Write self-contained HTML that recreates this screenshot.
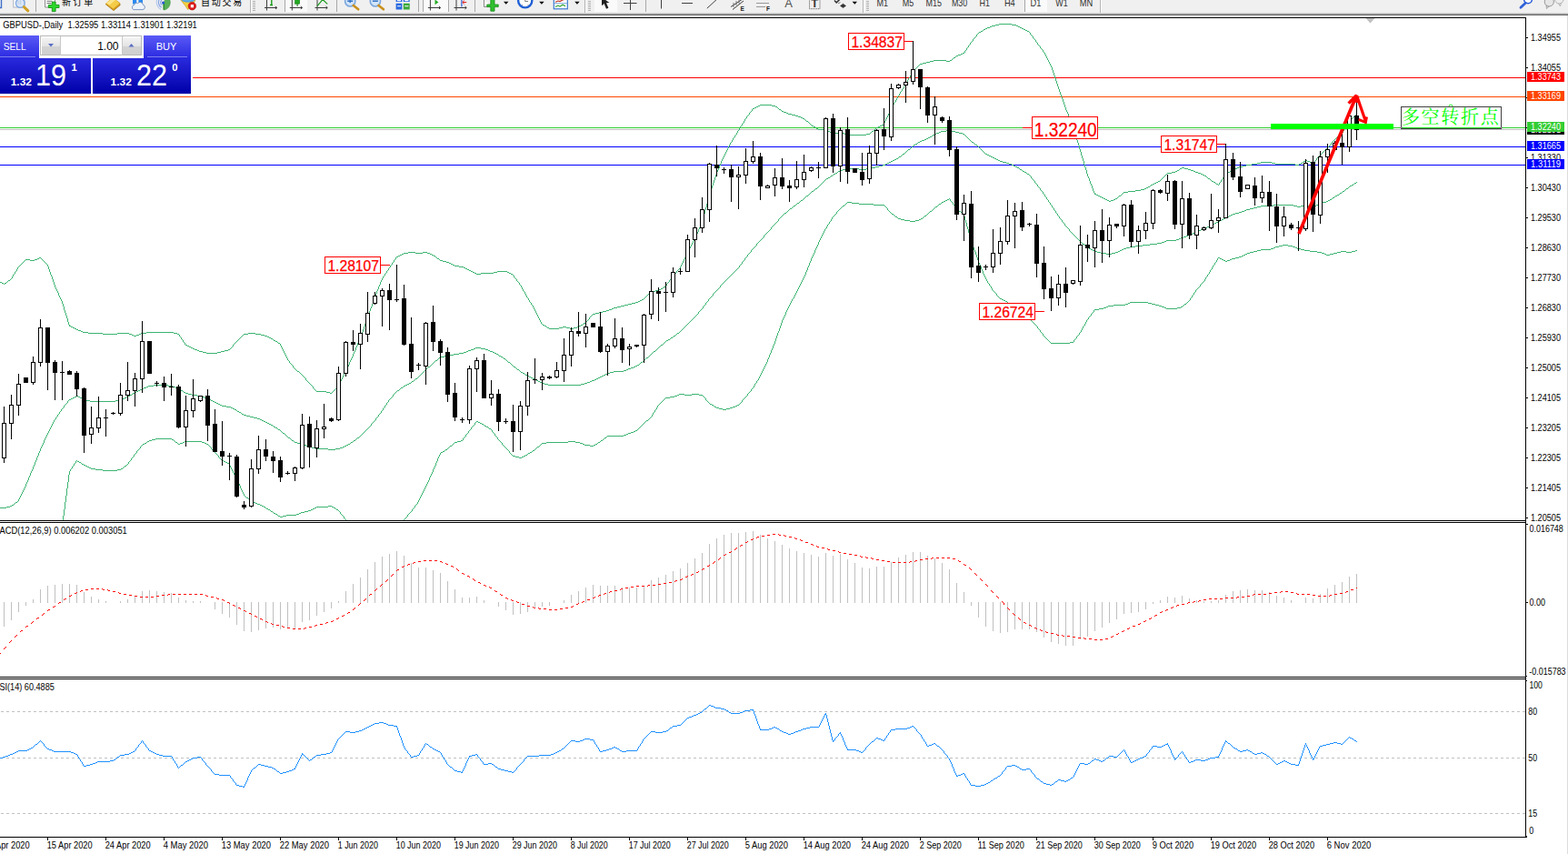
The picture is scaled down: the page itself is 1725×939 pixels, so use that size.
<!DOCTYPE html><html><head><meta charset="utf-8"><title>GBPUSD Daily</title><style>html,body{margin:0;padding:0;background:#fff;overflow:hidden;font-family:"Liberation Sans",sans-serif}svg text{font-family:"Liberation Sans",sans-serif}body{width:1725px;height:939px}</style></head><body><svg width="1725" height="939" viewBox="0 0 1725 939" font-family="&quot;Liberation Sans&quot;, sans-serif" style="display:block">
<defs>
<linearGradient id="gb1" x1="0" y1="0" x2="0" y2="1"><stop offset="0" stop-color="#5a5af6"/><stop offset="1" stop-color="#2c2ce2"/></linearGradient>
<linearGradient id="gb2" x1="0" y1="0" x2="0" y2="1"><stop offset="0" stop-color="#2a2adf"/><stop offset="1" stop-color="#0000a8"/></linearGradient>
<linearGradient id="gbtn" x1="0" y1="0" x2="0" y2="1"><stop offset="0" stop-color="#f4f4f4"/><stop offset="0.5" stop-color="#e4e4e4"/><stop offset="0.5" stop-color="#d4d4d4"/><stop offset="1" stop-color="#cfcfcf"/></linearGradient>
<clipPath id="cm"><rect x="0" y="20" width="1678" height="552"/></clipPath>
<clipPath id="cmacd"><rect x="0" y="575" width="1678" height="169"/></clipPath>
<clipPath id="crsi"><rect x="0" y="747" width="1678" height="173"/></clipPath>
</defs>
<rect width="1725" height="939" fill="#fff"/>
<g id="toolbar">
<rect x="0" y="0" width="1725" height="14" fill="#f0f0f0"/>
<rect x="0" y="14" width="1725" height="1" fill="#d6d6d6"/>
<rect x="0" y="15" width="1725" height="1" fill="#a0a0a0"/>
<rect x="0" y="16" width="1725" height="1" fill="#696969"/>
<rect x="1724" y="17" width="1" height="922" fill="#dcdcdc"/>
<g id="tb-icons"><clipPath id="ctb"><rect x="0" y="0" width="1725" height="14"/></clipPath><g clip-path="url(#ctb)">
<rect x="314" y="0" width="24" height="13" fill="#fafafa"/>
<rect x="466" y="0" width="27" height="13" fill="#fafafa"/>
<rect x="654" y="0" width="25" height="13" fill="#fafafa"/>
<rect x="1128" y="0" width="24" height="13" fill="#fafafa"/>
<rect x="39" y="0" width="1" height="13" fill="#a8a8a8"/>
<rect x="313" y="0" width="1" height="13" fill="#a8a8a8"/>
<rect x="370" y="0" width="1" height="13" fill="#a8a8a8"/>
<rect x="460" y="0" width="1" height="13" fill="#a8a8a8"/>
<rect x="465" y="0" width="1" height="13" fill="#a8a8a8"/>
<rect x="493" y="0" width="1" height="13" fill="#a8a8a8"/>
<rect x="522" y="0" width="1" height="13" fill="#a8a8a8"/>
<rect x="710" y="0" width="1" height="13" fill="#a8a8a8"/>
<rect x="1127" y="0" width="1" height="13" fill="#a8a8a8"/>
<rect x="275" y="0" width="1" height="14" fill="#b4b4b4"/><rect x="276" y="0" width="1" height="14" fill="#fdfdfd"/>
<rect x="643" y="0" width="1" height="14" fill="#b4b4b4"/><rect x="644" y="0" width="1" height="14" fill="#fdfdfd"/>
<rect x="949" y="0" width="1" height="14" fill="#b4b4b4"/><rect x="950" y="0" width="1" height="14" fill="#fdfdfd"/>
<rect x="1210" y="0" width="1" height="14" fill="#b4b4b4"/><rect x="1211" y="0" width="1" height="14" fill="#fdfdfd"/>
<g fill="#b0b0b0"><rect x="278" y="1" width="3" height="1"/><rect x="278" y="3" width="3" height="1"/><rect x="278" y="5" width="3" height="1"/><rect x="278" y="7" width="3" height="1"/><rect x="278" y="9" width="3" height="1"/><rect x="278" y="11" width="3" height="1"/></g>
<g fill="#b0b0b0"><rect x="647" y="1" width="3" height="1"/><rect x="647" y="3" width="3" height="1"/><rect x="647" y="5" width="3" height="1"/><rect x="647" y="7" width="3" height="1"/><rect x="647" y="9" width="3" height="1"/><rect x="647" y="11" width="3" height="1"/></g>
<g fill="#b0b0b0"><rect x="953" y="1" width="3" height="1"/><rect x="953" y="3" width="3" height="1"/><rect x="953" y="5" width="3" height="1"/><rect x="953" y="7" width="3" height="1"/><rect x="953" y="9" width="3" height="1"/><rect x="953" y="11" width="3" height="1"/></g>
<path d="M1.5 0V8.5H0" fill="none" stroke="#3f6fc8" stroke-width="1.4"/>
<rect x="14.8" y="-2" width="12" height="10" fill="#fff" stroke="#a4acb8" stroke-width="0.9"/>
<path d="M20 0.5v4M22.5 0v5" stroke="#9aa2ae" stroke-width="1.5"/>
<circle cx="22.3" cy="3.5" r="4.9" fill="#cfe0f6" fill-opacity="0.8" stroke="#7fa8e0" stroke-width="1.3"/>
<path d="M26.4 7.6L30.8 11.8" stroke="#d0a024" stroke-width="3" stroke-linecap="round"/>
<path d="M49.6 -1V8H60.4V-1" fill="#fff" stroke="#8a8a8a"/><path d="M51.5 1.3h6M51.5 3.5h5" stroke="#707070"/>
<path d="M57.3 2.1h3.8v3.3h3.9v3.1h-3.9v4.1h-3.8v-4.1h-4v-3.1h4z" fill="#2ad82a" stroke="#179417" stroke-width="0.9"/>
<text x="68.1" y="6" font-size="10" fill="#000" textLength="34.2" lengthAdjust="spacing" style="font-family:'Liberation Sans','Noto Sans CJK SC',sans-serif">新订单</text>
<path d="M116.2 4.6L125 11.6L132.2 5.6L131.6 3.2L124 -2z" fill="#d49a1c" stroke="#a87410" stroke-width="0.8"/>
<path d="M116.4 3.6L124.6 9.6L131.8 3.4L124 -3z" fill="#f4cc48"/>
<path d="M117.5 3.4L124 -2L127 0L120.5 5.6z" fill="#fbe48a"/>
<rect x="146" y="-2" width="4.2" height="6.5" fill="#2a8af0"/><rect x="152.4" y="-2" width="4.6" height="6" fill="#2a8af0"/>
<path d="M147 10.6h10a2.7 2.7 0 0 0 .4-5.3a3.3 3.3 0 0 0-5.8-1.7a2.7 2.7 0 0 0-4 2a2.6 2.6 0 0 0-.6 5z" fill="#eef3fa" stroke="#6f8cbc" stroke-width="0.9"/>
<path d="M179.8 3.2L183.5 -4A8.2 8.2 0 0 1 180.3 11z" fill="#58b058" stroke="#3a8a3a" stroke-width="0.5"/>
<path d="M180.2 3.2V10.8" stroke="#2a8a2a" stroke-width="1.3"/>
<g fill="none" stroke="#7f9fe4" stroke-width="1.1"><path d="M176.2 -1.8a6.3 6.3 0 0 0 1.6 10"/><path d="M178 0.2a3.4 3.4 0 0 0 .2 5.6"/><path d="M174 -3a9 9 0 0 0 3.3 13.4" stroke="#b6c8ee"/></g>
<circle cx="179.6" cy="3.1" r="1.6" fill="#2a5ad0"/>
<path d="M199.3 0.5L204 6.5L206.5 10.4L209 9L214.6 1V-2H199.3z" fill="#f4d040" stroke="#c8a020" stroke-width="0.7"/>
<ellipse cx="207" cy="0" rx="7" ry="2.2" fill="#5ab0e8" stroke="#3a88c8" stroke-width="0.6"/>
<circle cx="211.4" cy="6.7" r="4.2" fill="#e01c1c" stroke="#b01010" stroke-width="0.7"/><rect x="209.8" y="5.1" width="3.2" height="3.2" fill="#fff"/>
<text x="221" y="6" font-size="10" fill="#000" textLength="45.25" lengthAdjust="spacing" style="font-family:'Liberation Sans','Noto Sans CJK SC',sans-serif">自动交易</text>
<path d="M293.5 0V11.5M291 8.5H304.5M303 7l1.8 1.5l-1.8 1.5" fill="none" stroke="#3c3c3c" stroke-width="1"/>
<path d="M298.8 0V6M297 5.5h3" stroke="#1a9a1a" stroke-width="1.4" fill="none"/>
<path d="M321.3 0V11.5M318.8 8.5H332.3M330.8 7l1.8 1.5l-1.8 1.5" fill="none" stroke="#3c3c3c" stroke-width="1"/>
<rect x="324.6" y="-1" width="5" height="5.2" fill="#22aa22" stroke="#117711" stroke-width="0.6"/><path d="M327.1 4V7" stroke="#117711"/>
<path d="M349.0 0V11.5M346.5 8.5H360.0M358.5 7l1.8 1.5l-1.8 1.5" fill="none" stroke="#3c3c3c" stroke-width="1"/>
<path d="M349 6.7L355 -0.5L360.2 4.4" fill="none" stroke="#1a9a1a" stroke-width="1.2"/>
<circle cx="385.2" cy="1.4" r="5.6" fill="#d2e4f8" stroke="#7aa6dc" stroke-width="1.6"/>
<path d="M388.8 6L394.2 10.3" stroke="#c8901a" stroke-width="2.6" stroke-linecap="round"/>
<path d="M382.2 1.2h6" stroke="#3a78c8" stroke-width="1.6"/>
<circle cx="412.9" cy="1.4" r="5.6" fill="#d2e4f8" stroke="#7aa6dc" stroke-width="1.6"/>
<path d="M416.5 6L421.9 10.3" stroke="#c8901a" stroke-width="2.6" stroke-linecap="round"/>
<path d="M409.9 1.2h6" stroke="#3a78c8" stroke-width="1.6"/>
<path d="M385.2 -2v5" stroke="#3a78c8" stroke-width="1.6"/>
<rect x="435.6" y="-2" width="6.8" height="4" fill="#2a6ae0"/><rect x="443.8" y="-2" width="6.9" height="4" fill="#2a6ae0"/>
<rect x="435.6" y="3.7" width="6.8" height="6.8" fill="#2a6ae0"/><rect x="443.8" y="3.7" width="6.9" height="6.8" fill="#3aa83a"/>
<path d="M437 6.8h4M445.2 6.8h4.2M437 0.6h4M445.2 0.6h4.2" stroke="#fff" stroke-width="1.1"/>
<path d="M473.4 0V11.5M470.9 8.5H484.4M482.9 7l1.8 1.5l-1.8 1.5" fill="none" stroke="#3c3c3c" stroke-width="1"/>
<path d="M478.5 -0.5V5.2L482.4 2.4z" fill="#22aa22"/>
<path d="M502.0 0V11.5M499.5 8.5H513.0M511.5 7l1.8 1.5l-1.8 1.5" fill="none" stroke="#3c3c3c" stroke-width="1"/>
<path d="M507.9 0V7.5" stroke="#2a5ad0" stroke-width="1.2"/><path d="M513.2 2.5h-4M510.8 0.6L508.8 2.5L510.8 4.4" stroke="#e02020" stroke-width="1" fill="none"/>
<path d="M532.5 -1V7.5H540" fill="#fff" stroke="#8a8a8a"/>
<path d="M539.8 -1h4.2v6h4.2v2.6h-4.2v4.6h-4.2v-4.6h-4v-2.6h4z" fill="#2fc02f" stroke="#178a17" stroke-width="0.8"/>
<path d="M554 1.7h5.4l-2.7 3z" fill="#000"/>
<path d="M593.2 1.7h5.4l-2.7 3z" fill="#000"/>
<path d="M632.2 1.7h5.4l-2.7 3z" fill="#000"/>
<path d="M937.6 1.7h5.4l-2.7 3z" fill="#000"/>
<circle cx="577.7" cy="0.8" r="7.6" fill="#fff" stroke="#1f5fd4" stroke-width="2.4"/><path d="M577.7 -2V1.5H581" stroke="#808080" fill="none"/><path d="M574 5.5h1M580.5 5.5h1M577.5 7h1" stroke="#a0a0a0"/>
<rect x="609.3" y="-2" width="15" height="11.8" fill="#fff" stroke="#3a78d0" stroke-width="1.2"/><path d="M610 3.7h14" stroke="#7aa6dc"/>
<path d="M611 2.2l3-1.2l2 .6l3-1.6l3-.8" fill="none" stroke="#c03020" stroke-width="1.1"/><path d="M611 7.4l3-1.4l2 1.2l3-2l3 1.6" fill="none" stroke="#28a028" stroke-width="1.1"/>
<path d="M662 -3V6.2L664.6 4L667 9.8L669.4 8.8L667 3.2L670.4 3z" fill="#202020"/>
<path d="M693.5 0V11M686 3.5h14.5" stroke="#404040" fill="none"/>
<path d="M727.5 0V9.5M750 3.5h12" stroke="#404040" fill="none"/><path d="M777.8 9.2L788 -0.2" stroke="#404040" fill="none"/>
<path d="M804 7.5L817 -1M806 10.5L818 1" stroke="#404040" fill="none"/><path d="M807 3v5M810 1v5M813 -1v5" stroke="#606060" stroke-width="0.8"/>
<text x="814.6" y="11.8" font-size="6.5" fill="#202020" font-weight="bold" >E</text>
<path d="M832.5 3.5h14M832.5 7.5h10" stroke="#404040" stroke-dasharray="1 1" fill="none"/>
<text x="843" y="11.6" font-size="6.5" fill="#202020" font-weight="bold" >F</text>
<text x="863.2" y="7.6" font-size="13" fill="#505050" >A</text>
<rect x="890.5" y="-2" width="11.5" height="11.7" fill="none" stroke="#505050" stroke-dasharray="1 1"/>
<text x="892.3" y="8" font-size="13" fill="#3a3a3a" font-weight="bold" >T</text>
<path d="M918 0.5l2.2 2.4l4 -4" stroke="#303030" stroke-width="1.5" fill="none"/><path d="M922 3.8l2.5 -1.2M927.5 4.2l3 2.2l-3 2.2l-3-2.2z" fill="#303030" stroke="#303030" stroke-width="0.6"/>
<text x="964.5" y="6.7" font-size="11" fill="#303030" textLength="12.6" lengthAdjust="spacingAndGlyphs" >M1</text>
<text x="992.7" y="6.7" font-size="11" fill="#303030" textLength="12.5" lengthAdjust="spacingAndGlyphs" >M5</text>
<text x="1018.6" y="6.7" font-size="11" fill="#303030" textLength="17.4" lengthAdjust="spacingAndGlyphs" >M15</text>
<text x="1046.9" y="6.7" font-size="11" fill="#303030" textLength="17.2" lengthAdjust="spacingAndGlyphs" >M30</text>
<text x="1077.5" y="6.7" font-size="11" fill="#303030" textLength="11.4" lengthAdjust="spacingAndGlyphs" >H1</text>
<text x="1104.9" y="6.7" font-size="11" fill="#303030" textLength="11.8" lengthAdjust="spacingAndGlyphs" >H4</text>
<text x="1133.5" y="6.7" font-size="11" fill="#303030" textLength="11.8" lengthAdjust="spacingAndGlyphs" >D1</text>
<text x="1161.3" y="6.7" font-size="11" fill="#303030" textLength="13.4" lengthAdjust="spacingAndGlyphs" >W1</text>
<text x="1187.7" y="6.7" font-size="11" fill="#303030" textLength="14.4" lengthAdjust="spacingAndGlyphs" >MN</text>
<circle cx="1681" cy="-0.5" r="4.3" fill="#fff" stroke="#2a5ad8" stroke-width="1.5"/><path d="M1673 8.2L1678.3 3.3" stroke="#2f62d8" stroke-width="2.8" stroke-linecap="round"/>
<path d="M1714.2 3.4L1716.4 6.9L1717.6 3.6z" fill="#e8e8e8" stroke="#a0a0a0" stroke-width="0.7"/><ellipse cx="1715.3" cy="-0.3" rx="4.6" ry="4.3" fill="#ededed" stroke="#a4a4a4" stroke-width="0.8"/>
<path d="M1701 6L1701.5 9.6L1704.4 6.8z" fill="#dcdcdc" stroke="#8c8c8c" stroke-width="0.7"/><ellipse cx="1704.3" cy="2" rx="5.1" ry="5" fill="#e6e6e6" stroke="#909090" stroke-width="0.9"/>
</g></g>
</g>
<g shape-rendering="crispEdges" fill="#000">
<rect x="0" y="19" width="1679" height="1"/>
<rect x="1678" y="19" width="1" height="902"/>
<rect x="0" y="572" width="1679" height="1"/>
<rect x="0" y="574" width="1679" height="1"/>
<rect x="0" y="744" width="1679" height="1"/>
<rect x="0" y="746" width="1679" height="1"/>
<rect x="0" y="920" width="1680" height="1"/>
</g>
<path d="M1502.5 20h10l-5 5.5z" fill="#c0c0c0"/>
<g clip-path="url(#cm)">
<g shape-rendering="crispEdges">
<rect x="0" y="85" width="1678" height="1" fill="#ff0000"/>
<rect x="0" y="106" width="1678" height="1" fill="#ff4500"/>
<rect x="0" y="140" width="1678" height="1" fill="#32cd32"/>
<rect x="0" y="142" width="1678" height="1" fill="#c0c0c0"/>
<rect x="0" y="161" width="1678" height="1" fill="#0000ff"/>
<rect x="0" y="181" width="1678" height="1" fill="#0000ff"/>
</g>
<path fill="#3cb371" shape-rendering="crispEdges" d="M1099 26h14v1h-14zM1095 27h4v1h-4zM1113 27h5v1h-5zM1091 28h4v1h-4zM1118 28h2v1h-2zM1089 29h2v1h-2zM1120 29h2v1h-2zM1086 30h3v1h-3zM1122 30h2v1h-2zM1084 31h2v1h-2zM1124 31h2v1h-2zM1082 32h2v1h-2zM1126 32h2v1h-2zM1081 33h1v1h-1zM1128 33h2v1h-2zM1079 34h2v1h-2zM1130 34h2v1h-2zM1077 35h2v1h-2zM1132 35h1v1h-1zM1076 36h1v1h-1zM1133 36h1v2h-1zM1075 37h1v1h-1zM1074 38h1v2h-1zM1134 38h1v1h-1zM1135 39h1v1h-1zM1073 40h1v1h-1zM1136 40h1v2h-1zM1072 41h1v1h-1zM1071 42h1v1h-1zM1137 42h1v1h-1zM1070 43h1v2h-1zM1138 43h1v1h-1zM1139 44h1v2h-1zM1069 45h1v1h-1zM1068 46h1v1h-1zM1140 46h1v1h-1zM1067 47h1v2h-1zM1141 47h1v2h-1zM1066 49h1v1h-1zM1142 49h1v1h-1zM1065 50h1v2h-1zM1143 50h1v1h-1zM1144 51h1v2h-1zM1064 52h1v1h-1zM1063 53h1v2h-1zM1145 53h1v1h-1zM1146 54h1v1h-1zM1062 55h1v1h-1zM1147 55h1v2h-1zM1061 56h1v2h-1zM1148 57h1v1h-1zM1059 58h2v1h-2zM1149 58h1v2h-1zM1057 59h2v1h-2zM1054 60h3v1h-3zM1150 60h1v2h-1zM1052 61h2v1h-2zM1051 62h1v1h-1zM1151 62h1v2h-1zM1049 63h2v1h-2zM1048 64h1v1h-1zM1152 64h1v2h-1zM1047 65h1v1h-1zM1027 66h14v1h-14zM1045 66h2v1h-2zM1153 66h1v2h-1zM1023 67h4v1h-4zM1041 67h4v1h-4zM1019 68h4v1h-4zM1154 68h1v2h-1zM1015 69h4v1h-4zM1012 70h3v1h-3zM1155 70h1v2h-1zM1011 71h1v1h-1zM1010 72h1v1h-1zM1156 72h1v2h-1zM1009 73h1v1h-1zM1008 74h1v1h-1zM1157 74h1v3h-1zM1007 75h1v1h-1zM1006 76h1v1h-1zM1005 77h1v1h-1zM1158 77h1v3h-1zM1004 78h1v1h-1zM1003 79h1v2h-1zM1159 80h1v3h-1zM1002 81h1v2h-1zM1001 83h1v2h-1zM1160 83h1v3h-1zM1000 85h1v1h-1zM999 86h1v2h-1zM1161 86h1v3h-1zM998 88h1v2h-1zM1162 89h1v3h-1zM997 90h1v2h-1zM996 92h1v1h-1zM1163 92h1v3h-1zM995 93h1v2h-1zM994 95h1v2h-1zM1164 95h1v3h-1zM993 97h1v1h-1zM992 98h1v2h-1zM1165 98h1v3h-1zM991 100h1v1h-1zM990 101h1v2h-1zM1166 101h1v3h-1zM989 103h1v2h-1zM1167 104h1v3h-1zM988 105h1v1h-1zM987 106h1v2h-1zM1168 107h1v2h-1zM986 108h1v2h-1zM1169 109h1v3h-1zM985 110h1v2h-1zM984 112h1v1h-1zM1170 112h1v3h-1zM983 113h1v2h-1zM836 115h13v1h-13zM982 115h1v2h-1zM1171 115h1v3h-1zM834 116h2v1h-2zM849 116h4v1h-4zM832 117h2v1h-2zM853 117h2v1h-2zM981 117h1v2h-1zM830 118h2v1h-2zM855 118h1v1h-1zM1172 118h1v3h-1zM828 119h2v1h-2zM856 119h1v1h-1zM980 119h1v2h-1zM827 120h1v2h-1zM857 120h2v1h-2zM859 121h1v1h-1zM979 121h1v2h-1zM1173 121h1v2h-1zM826 122h1v1h-1zM860 122h2v1h-2zM825 123h1v1h-1zM862 123h3v1h-3zM978 123h1v2h-1zM1174 123h1v2h-1zM824 124h1v2h-1zM865 124h2v1h-2zM867 125h4v1h-4zM977 125h1v2h-1zM1175 125h1v3h-1zM1492 125h1v1h-1zM823 126h1v1h-1zM871 126h4v1h-4zM1491 126h1v1h-1zM822 127h1v1h-1zM875 127h3v1h-3zM976 127h1v2h-1zM1490 127h1v1h-1zM821 128h1v2h-1zM878 128h3v1h-3zM1176 128h1v2h-1zM1489 128h1v1h-1zM881 129h2v1h-2zM975 129h1v2h-1zM1488 129h1v1h-1zM820 130h1v1h-1zM883 130h2v1h-2zM1177 130h1v3h-1zM1487 130h1v1h-1zM819 131h1v2h-1zM885 131h1v1h-1zM974 131h1v2h-1zM1486 131h1v1h-1zM886 132h1v1h-1zM1485 132h1v1h-1zM818 133h1v2h-1zM887 133h2v1h-2zM973 133h1v2h-1zM1178 133h1v2h-1zM1484 133h1v1h-1zM889 134h1v1h-1zM1483 134h1v2h-1zM817 135h1v1h-1zM890 135h1v1h-1zM972 135h1v2h-1zM1179 135h1v2h-1zM816 136h1v2h-1zM891 136h1v1h-1zM1482 136h1v2h-1zM892 137h1v1h-1zM970 137h2v1h-2zM1180 137h1v3h-1zM815 138h1v1h-1zM893 138h2v1h-2zM968 138h2v1h-2zM1481 138h1v1h-1zM814 139h1v2h-1zM895 139h2v1h-2zM966 139h2v1h-2zM1480 139h1v2h-1zM897 140h1v1h-1zM964 140h2v1h-2zM1181 140h1v4h-1zM813 141h1v2h-1zM898 141h2v1h-2zM963 141h1v1h-1zM1479 141h1v1h-1zM900 142h9v1h-9zM962 142h1v1h-1zM1478 142h1v2h-1zM812 143h1v1h-1zM909 143h2v1h-2zM961 143h1v1h-1zM811 144h1v2h-1zM911 144h2v1h-2zM959 144h2v1h-2zM1182 144h1v3h-1zM1477 144h1v2h-1zM913 145h1v1h-1zM923 145h3v1h-3zM958 145h1v1h-1zM810 146h1v2h-1zM914 146h2v1h-2zM919 146h4v1h-4zM926 146h3v1h-3zM957 146h1v1h-1zM1476 146h1v1h-1zM916 147h3v1h-3zM929 147h2v1h-2zM953 147h4v1h-4zM1183 147h1v3h-1zM1475 147h1v1h-1zM809 148h1v1h-1zM931 148h22v1h-22zM1474 148h1v1h-1zM808 149h1v2h-1zM1473 149h1v1h-1zM1184 150h1v4h-1zM1471 150h2v1h-2zM807 151h1v1h-1zM1470 151h1v1h-1zM806 152h1v2h-1zM1469 152h1v1h-1zM1468 153h1v1h-1zM805 154h1v2h-1zM1185 154h1v3h-1zM1467 154h1v1h-1zM1466 155h1v1h-1zM804 156h1v1h-1zM1465 156h1v1h-1zM803 157h1v2h-1zM1186 157h1v3h-1zM1464 157h1v2h-1zM802 159h1v2h-1zM1463 159h1v1h-1zM1187 160h1v4h-1zM1462 160h1v1h-1zM801 161h1v2h-1zM1461 161h1v1h-1zM1460 162h1v1h-1zM800 163h1v2h-1zM1459 163h1v1h-1zM1188 164h1v3h-1zM1458 164h1v1h-1zM799 165h1v2h-1zM1457 165h1v1h-1zM1456 166h1v1h-1zM798 167h1v2h-1zM1189 167h1v4h-1zM1455 167h1v1h-1zM1454 168h1v1h-1zM797 169h1v2h-1zM1453 169h1v1h-1zM1452 170h1v1h-1zM796 171h1v2h-1zM1190 171h1v3h-1zM1451 171h1v1h-1zM1450 172h1v1h-1zM795 173h1v2h-1zM1449 173h1v1h-1zM1191 174h1v3h-1zM1448 174h1v2h-1zM794 175h1v2h-1zM1436 176h2v1h-2zM1447 176h1v1h-1zM793 177h1v3h-1zM1192 177h1v4h-1zM1434 177h2v1h-2zM1438 177h3v1h-3zM1446 177h1v1h-1zM1387 178h12v1h-12zM1433 178h1v1h-1zM1441 178h2v1h-2zM1445 178h1v1h-1zM1383 179h4v1h-4zM1399 179h4v1h-4zM1431 179h2v1h-2zM1443 179h2v1h-2zM792 180h1v2h-1zM1377 180h6v1h-6zM1403 180h22v1h-22zM1429 180h2v1h-2zM1193 181h1v3h-1zM1371 181h6v1h-6zM1425 181h4v1h-4zM791 182h1v3h-1zM1367 182h4v1h-4zM1363 183h4v1h-4zM1194 184h1v3h-1zM1300 184h3v1h-3zM1361 184h2v1h-2zM790 185h1v2h-1zM1298 185h2v1h-2zM1303 185h4v1h-4zM1358 185h3v1h-3zM1297 186h1v1h-1zM1307 186h3v1h-3zM1356 186h2v1h-2zM789 187h1v2h-1zM1195 187h1v4h-1zM1295 187h2v1h-2zM1310 187h3v1h-3zM1354 187h2v1h-2zM1293 188h2v1h-2zM1313 188h2v1h-2zM1353 188h1v1h-1zM788 189h1v3h-1zM1289 189h4v1h-4zM1315 189h3v1h-3zM1351 189h2v1h-2zM1284 190h5v1h-5zM1318 190h3v1h-3zM1349 190h2v1h-2zM1196 191h1v3h-1zM1283 191h1v1h-1zM1321 191h2v1h-2zM1348 191h1v1h-1zM787 192h1v3h-1zM1282 192h1v1h-1zM1323 192h2v1h-2zM1347 192h1v2h-1zM1281 193h1v1h-1zM1325 193h2v1h-2zM1197 194h1v2h-1zM1280 194h1v1h-1zM1327 194h1v1h-1zM1346 194h1v1h-1zM786 195h1v3h-1zM1279 195h1v1h-1zM1328 195h1v1h-1zM1345 195h1v2h-1zM1198 196h1v3h-1zM1278 196h1v1h-1zM1329 196h2v1h-2zM1277 197h1v1h-1zM1331 197h1v1h-1zM1344 197h1v1h-1zM785 198h1v3h-1zM1276 198h1v1h-1zM1332 198h1v1h-1zM1343 198h1v2h-1zM1199 199h1v3h-1zM1274 199h2v1h-2zM1333 199h2v1h-2zM1272 200h2v1h-2zM1335 200h2v1h-2zM1342 200h1v1h-1zM784 201h1v3h-1zM1270 201h2v1h-2zM1337 201h1v1h-1zM1341 201h1v2h-1zM1200 202h1v2h-1zM1268 202h2v1h-2zM1338 202h2v1h-2zM1266 203h2v1h-2zM1340 203h1v1h-1zM783 204h1v3h-1zM1201 204h1v3h-1zM1265 204h1v1h-1zM1263 205h2v1h-2zM1261 206h2v1h-2zM782 207h1v3h-1zM1202 207h1v3h-1zM1259 207h2v1h-2zM1255 208h4v1h-4zM1249 209h6v1h-6zM781 210h1v3h-1zM1203 210h1v2h-1zM1241 210h8v1h-8zM1236 211h5v1h-5zM1204 212h1v2h-1zM1235 212h1v1h-1zM780 213h1v3h-1zM1205 213h1v1h-1zM1234 213h1v1h-1zM1206 214h2v1h-2zM1233 214h1v1h-1zM1208 215h2v1h-2zM1231 215h2v1h-2zM779 216h1v4h-1zM1210 216h2v1h-2zM1230 216h1v1h-1zM1212 217h2v1h-2zM1229 217h1v1h-1zM1214 218h2v1h-2zM1227 218h2v1h-2zM1216 219h2v1h-2zM1225 219h2v1h-2zM778 220h1v4h-1zM1218 220h2v1h-2zM1222 220h3v1h-3zM1220 221h2v1h-2zM777 224h1v4h-1zM776 228h1v3h-1zM775 231h1v4h-1zM774 235h1v4h-1zM773 239h1v4h-1zM772 243h1v3h-1zM771 246h1v2h-1zM770 248h1v2h-1zM769 250h1v2h-1zM768 252h1v3h-1zM767 255h1v2h-1zM766 257h1v2h-1zM765 259h1v2h-1zM764 261h1v2h-1zM763 263h1v2h-1zM762 265h1v2h-1zM761 267h1v2h-1zM760 269h1v2h-1zM759 271h1v2h-1zM758 273h1v2h-1zM757 275h1v2h-1zM449 277h8v1h-8zM465 277h5v1h-5zM756 277h1v2h-1zM444 278h5v1h-5zM457 278h8v1h-8zM470 278h3v1h-3zM442 279h2v1h-2zM473 279h2v1h-2zM755 279h1v2h-1zM440 280h2v1h-2zM475 280h2v1h-2zM438 281h2v1h-2zM477 281h2v1h-2zM754 281h1v2h-1zM436 282h2v1h-2zM479 282h1v1h-1zM43 283h2v1h-2zM435 283h1v2h-1zM480 283h1v1h-1zM753 283h1v2h-1zM41 284h2v1h-2zM45 284h1v1h-1zM481 284h2v1h-2zM28 285h5v1h-5zM38 285h3v1h-3zM46 285h1v1h-1zM434 285h1v1h-1zM483 285h1v1h-1zM752 285h1v2h-1zM27 286h1v1h-1zM33 286h5v1h-5zM47 286h1v1h-1zM433 286h1v2h-1zM484 286h3v1h-3zM26 287h1v1h-1zM48 287h1v1h-1zM487 287h4v1h-4zM751 287h1v2h-1zM25 288h1v1h-1zM49 288h1v1h-1zM432 288h1v1h-1zM491 288h3v1h-3zM24 289h1v1h-1zM50 289h1v1h-1zM431 289h1v2h-1zM494 289h2v1h-2zM750 289h1v2h-1zM23 290h1v1h-1zM51 290h1v1h-1zM496 290h2v1h-2zM22 291h1v1h-1zM52 291h1v2h-1zM430 291h1v1h-1zM498 291h2v1h-2zM749 291h1v2h-1zM21 292h1v1h-1zM429 292h1v2h-1zM500 292h5v1h-5zM20 293h1v1h-1zM53 293h1v3h-1zM505 293h5v1h-5zM748 293h1v2h-1zM19 294h1v2h-1zM428 294h1v1h-1zM510 294h2v1h-2zM427 295h1v2h-1zM512 295h2v1h-2zM747 295h1v1h-1zM18 296h1v2h-1zM54 296h1v3h-1zM514 296h2v1h-2zM746 296h1v1h-1zM426 297h1v1h-1zM516 297h2v1h-2zM745 297h1v1h-1zM17 298h1v1h-1zM425 298h1v2h-1zM518 298h2v1h-2zM547 298h11v1h-11zM744 298h1v2h-1zM16 299h1v2h-1zM55 299h1v3h-1zM520 299h2v1h-2zM543 299h4v1h-4zM558 299h2v1h-2zM424 300h1v1h-1zM522 300h2v1h-2zM529 300h14v1h-14zM560 300h2v1h-2zM743 300h1v1h-1zM15 301h1v1h-1zM423 301h1v2h-1zM524 301h5v1h-5zM562 301h2v1h-2zM742 301h1v1h-1zM14 302h1v2h-1zM56 302h1v2h-1zM564 302h1v1h-1zM741 302h1v1h-1zM422 303h1v1h-1zM565 303h1v2h-1zM740 303h1v1h-1zM13 304h1v2h-1zM57 304h1v3h-1zM421 304h1v2h-1zM739 304h1v2h-1zM566 305h1v1h-1zM12 306h1v1h-1zM420 306h1v2h-1zM567 306h1v1h-1zM738 306h1v1h-1zM11 307h1v1h-1zM58 307h1v3h-1zM568 307h1v2h-1zM737 307h1v1h-1zM9 308h2v1h-2zM419 308h1v2h-1zM736 308h1v2h-1zM8 309h1v1h-1zM569 309h1v1h-1zM0 310h2v1h-2zM7 310h1v1h-1zM59 310h1v3h-1zM418 310h1v3h-1zM570 310h1v1h-1zM735 310h1v1h-1zM2 311h2v1h-2zM5 311h2v1h-2zM571 311h1v2h-1zM734 311h1v1h-1zM4 312h1v1h-1zM733 312h1v2h-1zM60 313h1v3h-1zM417 313h1v2h-1zM572 313h1v1h-1zM573 314h1v2h-1zM732 314h1v1h-1zM416 315h1v3h-1zM730 315h2v1h-2zM61 316h1v2h-1zM574 316h1v2h-1zM729 316h1v1h-1zM727 317h2v1h-2zM62 318h1v2h-1zM415 318h1v2h-1zM575 318h1v2h-1zM725 318h2v1h-2zM721 319h4v1h-4zM63 320h1v2h-1zM414 320h1v3h-1zM576 320h1v1h-1zM716 320h5v1h-5zM577 321h1v2h-1zM715 321h1v1h-1zM64 322h1v3h-1zM714 322h1v1h-1zM413 323h1v2h-1zM578 323h1v2h-1zM713 323h1v1h-1zM712 324h1v1h-1zM65 325h1v2h-1zM412 325h1v3h-1zM579 325h1v2h-1zM711 325h1v1h-1zM710 326h1v1h-1zM66 327h1v2h-1zM580 327h1v1h-1zM709 327h1v1h-1zM411 328h1v3h-1zM581 328h1v2h-1zM708 328h1v1h-1zM67 329h1v2h-1zM706 329h2v1h-2zM582 330h1v2h-1zM704 330h2v1h-2zM68 331h1v3h-1zM410 331h1v3h-1zM702 331h2v1h-2zM583 332h1v1h-1zM699 332h3v1h-3zM584 333h1v2h-1zM695 333h4v1h-4zM69 334h1v3h-1zM409 334h1v3h-1zM691 334h4v1h-4zM585 335h1v1h-1zM687 335h4v1h-4zM586 336h1v2h-1zM683 336h4v1h-4zM70 337h1v4h-1zM408 337h1v2h-1zM679 337h4v1h-4zM587 338h1v2h-1zM675 338h4v1h-4zM407 339h1v3h-1zM673 339h2v1h-2zM588 340h1v2h-1zM670 340h3v1h-3zM71 341h1v3h-1zM667 341h3v1h-3zM406 342h1v3h-1zM589 342h1v2h-1zM663 342h4v1h-4zM659 343h4v1h-4zM72 344h1v3h-1zM590 344h1v2h-1zM655 344h4v1h-4zM405 345h1v3h-1zM652 345h3v1h-3zM591 346h1v2h-1zM651 346h1v1h-1zM73 347h1v3h-1zM650 347h1v1h-1zM404 348h1v3h-1zM592 348h1v2h-1zM649 348h1v1h-1zM648 349h1v2h-1zM74 350h1v4h-1zM593 350h1v2h-1zM403 351h1v3h-1zM647 351h1v1h-1zM594 352h1v2h-1zM646 352h1v1h-1zM645 353h1v1h-1zM75 354h1v3h-1zM402 354h1v2h-1zM595 354h1v2h-1zM644 354h1v1h-1zM642 355h2v1h-2zM401 356h1v3h-1zM596 356h1v1h-1zM641 356h1v1h-1zM76 357h1v2h-1zM597 357h2v1h-2zM639 357h2v1h-2zM77 358h1v1h-1zM599 358h2v1h-2zM637 358h2v1h-2zM78 359h2v1h-2zM400 359h1v3h-1zM601 359h1v1h-1zM619 359h4v1h-4zM635 359h2v1h-2zM80 360h2v1h-2zM602 360h2v1h-2zM615 360h4v1h-4zM623 360h4v1h-4zM631 360h4v1h-4zM82 361h2v1h-2zM604 361h11v1h-11zM627 361h4v1h-4zM84 362h2v1h-2zM399 362h1v3h-1zM86 363h3v1h-3zM89 364h2v1h-2zM91 365h6v1h-6zM161 365h30v1h-30zM398 365h1v2h-1zM97 366h16v1h-16zM129 366h13v1h-13zM155 366h6v1h-6zM191 366h4v1h-4zM273 366h8v1h-8zM113 367h16v1h-16zM142 367h3v1h-3zM153 367h2v1h-2zM195 367h2v1h-2zM268 367h5v1h-5zM281 367h6v1h-6zM397 367h1v3h-1zM145 368h2v1h-2zM150 368h3v1h-3zM197 368h1v2h-1zM267 368h1v1h-1zM287 368h4v1h-4zM147 369h3v1h-3zM266 369h1v1h-1zM291 369h3v1h-3zM198 370h1v1h-1zM265 370h1v1h-1zM294 370h2v1h-2zM396 370h1v3h-1zM199 371h1v2h-1zM264 371h1v1h-1zM296 371h2v1h-2zM263 372h1v1h-1zM298 372h2v1h-2zM200 373h1v1h-1zM262 373h1v1h-1zM300 373h1v1h-1zM395 373h1v2h-1zM201 374h1v2h-1zM261 374h1v1h-1zM301 374h2v1h-2zM260 375h1v1h-1zM303 375h2v1h-2zM394 375h1v2h-1zM202 376h1v1h-1zM259 376h1v1h-1zM305 376h1v1h-1zM203 377h1v2h-1zM258 377h1v1h-1zM306 377h2v1h-2zM393 377h1v3h-1zM257 378h1v1h-1zM308 378h1v2h-1zM204 379h2v1h-2zM256 379h1v2h-1zM206 380h2v1h-2zM309 380h1v2h-1zM392 380h1v2h-1zM208 381h2v1h-2zM255 381h1v1h-1zM210 382h2v1h-2zM254 382h1v1h-1zM310 382h1v2h-1zM391 382h1v3h-1zM212 383h2v1h-2zM253 383h1v1h-1zM214 384h3v1h-3zM251 384h2v1h-2zM311 384h1v2h-1zM217 385h2v1h-2zM247 385h4v1h-4zM390 385h1v2h-1zM219 386h4v1h-4zM243 386h4v1h-4zM312 386h1v2h-1zM223 387h4v1h-4zM239 387h4v1h-4zM389 387h1v2h-1zM227 388h12v1h-12zM313 388h1v2h-1zM388 389h1v3h-1zM314 390h1v2h-1zM315 392h1v2h-1zM387 392h1v2h-1zM316 394h1v2h-1zM386 394h1v2h-1zM317 396h1v1h-1zM385 396h1v2h-1zM318 397h1v2h-1zM384 398h1v3h-1zM319 399h1v1h-1zM320 400h1v1h-1zM321 401h1v1h-1zM383 401h1v2h-1zM322 402h1v2h-1zM382 403h1v2h-1zM323 404h1v1h-1zM324 405h1v1h-1zM381 405h1v2h-1zM325 406h1v1h-1zM326 407h1v1h-1zM380 407h1v2h-1zM327 408h2v1h-2zM329 409h1v1h-1zM379 409h1v2h-1zM330 410h1v1h-1zM331 411h1v1h-1zM378 411h1v2h-1zM332 412h1v1h-1zM333 413h1v1h-1zM377 413h1v2h-1zM334 414h1v1h-1zM335 415h1v1h-1zM376 415h1v2h-1zM336 416h1v2h-1zM375 417h1v2h-1zM337 418h1v1h-1zM338 419h1v1h-1zM374 419h1v2h-1zM339 420h1v1h-1zM340 421h1v1h-1zM373 421h1v2h-1zM341 422h1v1h-1zM342 423h1v1h-1zM372 423h1v2h-1zM343 424h1v1h-1zM344 425h1v2h-1zM371 425h1v1h-1zM370 426h1v1h-1zM345 427h1v1h-1zM369 427h1v1h-1zM346 428h1v1h-1zM368 428h1v1h-1zM347 429h1v1h-1zM367 429h1v1h-1zM348 430h11v1h-11zM366 430h1v1h-1zM359 431h4v1h-4zM365 431h1v1h-1zM363 432h2v1h-2z"/>
<path fill="#3cb371" shape-rendering="crispEdges" d="M1041 143h6v1h-6zM1035 144h6v1h-6zM1047 144h4v1h-4zM1033 145h2v1h-2zM1051 145h4v1h-4zM1030 146h3v1h-3zM1055 146h4v1h-4zM1028 147h2v1h-2zM1059 147h2v1h-2zM1026 148h2v1h-2zM1061 148h1v1h-1zM1025 149h1v1h-1zM1062 149h1v1h-1zM1023 150h2v1h-2zM1063 150h1v1h-1zM1021 151h2v1h-2zM1064 151h1v1h-1zM1019 152h2v1h-2zM1065 152h1v1h-1zM1017 153h2v1h-2zM1066 153h1v1h-1zM1014 154h3v1h-3zM1067 154h1v1h-1zM1012 155h2v1h-2zM1068 155h1v1h-1zM1010 156h2v1h-2zM1069 156h2v1h-2zM1009 157h1v1h-1zM1071 157h1v1h-1zM1007 158h2v1h-2zM1072 158h1v1h-1zM1005 159h2v1h-2zM1073 159h2v1h-2zM1004 160h1v1h-1zM1075 160h1v1h-1zM1003 161h1v1h-1zM1076 161h1v1h-1zM1002 162h1v1h-1zM1077 162h1v1h-1zM1001 163h1v1h-1zM1078 163h1v1h-1zM999 164h2v1h-2zM1079 164h1v1h-1zM998 165h1v1h-1zM1080 165h1v1h-1zM997 166h1v1h-1zM1081 166h1v1h-1zM996 167h1v1h-1zM1082 167h1v1h-1zM995 168h1v1h-1zM1083 168h1v1h-1zM993 169h2v1h-2zM1084 169h2v1h-2zM992 170h1v1h-1zM1086 170h2v1h-2zM991 171h1v1h-1zM1088 171h2v1h-2zM989 172h2v1h-2zM1090 172h2v1h-2zM988 173h1v1h-1zM1092 173h2v1h-2zM986 174h2v1h-2zM1094 174h2v1h-2zM984 175h2v1h-2zM1096 175h2v1h-2zM982 176h2v1h-2zM1098 176h2v1h-2zM980 177h2v1h-2zM1100 177h3v1h-3zM978 178h2v1h-2zM1103 178h4v1h-4zM976 179h2v1h-2zM1107 179h3v1h-3zM974 180h2v1h-2zM1110 180h3v1h-3zM971 181h3v1h-3zM1113 181h2v1h-2zM967 182h4v1h-4zM1115 182h2v1h-2zM963 183h4v1h-4zM1117 183h2v1h-2zM959 184h4v1h-4zM1119 184h2v1h-2zM931 185h14v1h-14zM953 185h6v1h-6zM1121 185h1v1h-1zM927 186h4v1h-4zM945 186h8v1h-8zM1122 186h2v1h-2zM924 187h3v1h-3zM1124 187h1v1h-1zM922 188h2v1h-2zM1125 188h2v1h-2zM921 189h1v1h-1zM1127 189h2v1h-2zM919 190h2v1h-2zM1129 190h1v1h-1zM917 191h2v1h-2zM1130 191h2v1h-2zM916 192h1v1h-1zM1132 192h1v1h-1zM914 193h2v1h-2zM1133 193h1v1h-1zM913 194h1v1h-1zM1134 194h1v2h-1zM911 195h2v1h-2zM909 196h2v1h-2zM1135 196h1v1h-1zM908 197h1v1h-1zM1136 197h1v1h-1zM907 198h1v1h-1zM1137 198h1v1h-1zM906 199h1v1h-1zM1138 199h1v2h-1zM905 200h1v1h-1zM1492 200h1v1h-1zM904 201h1v1h-1zM1139 201h1v1h-1zM1490 201h2v1h-2zM903 202h1v1h-1zM1140 202h1v1h-1zM1489 202h1v1h-1zM902 203h1v1h-1zM1141 203h1v2h-1zM1487 203h2v1h-2zM901 204h1v1h-1zM1485 204h2v1h-2zM900 205h1v1h-1zM1142 205h1v1h-1zM1484 205h1v1h-1zM899 206h1v1h-1zM1143 206h1v1h-1zM1483 206h1v1h-1zM897 207h2v1h-2zM1144 207h1v2h-1zM1481 207h2v1h-2zM896 208h1v1h-1zM1480 208h1v1h-1zM895 209h1v1h-1zM1145 209h1v1h-1zM1479 209h1v1h-1zM893 210h2v1h-2zM1146 210h1v1h-1zM1477 210h2v1h-2zM892 211h1v1h-1zM1147 211h1v2h-1zM1476 211h1v1h-1zM891 212h1v1h-1zM1474 212h2v1h-2zM890 213h1v1h-1zM1148 213h1v1h-1zM1473 213h1v1h-1zM889 214h1v1h-1zM1149 214h1v2h-1zM1471 214h2v1h-2zM887 215h2v1h-2zM1469 215h2v1h-2zM886 216h1v1h-1zM1150 216h1v1h-1zM1468 216h1v1h-1zM885 217h1v1h-1zM1151 217h1v2h-1zM1466 217h2v1h-2zM884 218h1v1h-1zM1465 218h1v1h-1zM883 219h1v1h-1zM1152 219h1v1h-1zM1463 219h2v1h-2zM881 220h2v1h-2zM1153 220h1v2h-1zM1461 220h2v1h-2zM880 221h1v1h-1zM1459 221h2v1h-2zM879 222h1v1h-1zM1154 222h1v1h-1zM1455 222h4v1h-4zM877 223h2v1h-2zM1155 223h1v2h-1zM1452 223h3v1h-3zM876 224h1v1h-1zM1450 224h2v1h-2zM875 225h1v1h-1zM1156 225h1v1h-1zM1401 225h22v1h-22zM1435 225h4v1h-4zM1448 225h2v1h-2zM873 226h2v1h-2zM1157 226h1v2h-1zM1387 226h14v1h-14zM1423 226h4v1h-4zM1431 226h4v1h-4zM1439 226h4v1h-4zM1446 226h2v1h-2zM872 227h1v1h-1zM1383 227h4v1h-4zM1427 227h4v1h-4zM1443 227h3v1h-3zM871 228h1v1h-1zM1158 228h1v1h-1zM1379 228h4v1h-4zM869 229h2v1h-2zM1159 229h1v2h-1zM1375 229h4v1h-4zM868 230h1v1h-1zM1371 230h4v1h-4zM867 231h1v1h-1zM1160 231h1v1h-1zM1369 231h2v1h-2zM866 232h1v1h-1zM1161 232h1v2h-1zM1366 232h3v1h-3zM865 233h1v1h-1zM1363 233h3v1h-3zM863 234h2v1h-2zM1162 234h1v1h-1zM1359 234h4v1h-4zM862 235h1v1h-1zM1163 235h1v2h-1zM1356 235h3v1h-3zM861 236h1v1h-1zM1354 236h2v1h-2zM860 237h1v1h-1zM1164 237h1v1h-1zM1352 237h2v1h-2zM859 238h1v1h-1zM1165 238h1v2h-1zM1350 238h2v1h-2zM858 239h1v1h-1zM1348 239h2v1h-2zM857 240h1v1h-1zM1166 240h1v1h-1zM1346 240h2v1h-2zM856 241h1v2h-1zM1167 241h1v1h-1zM1344 241h2v1h-2zM1168 242h1v2h-1zM1342 242h2v1h-2zM855 243h1v1h-1zM1340 243h2v1h-2zM854 244h1v1h-1zM1169 244h1v1h-1zM1338 244h2v1h-2zM853 245h1v1h-1zM1170 245h1v1h-1zM1336 245h2v1h-2zM852 246h1v1h-1zM1171 246h1v2h-1zM1334 246h2v1h-2zM851 247h1v1h-1zM1332 247h2v1h-2zM850 248h1v1h-1zM1172 248h1v1h-1zM1330 248h2v1h-2zM849 249h1v1h-1zM1173 249h1v1h-1zM1328 249h2v1h-2zM848 250h1v2h-1zM1174 250h1v1h-1zM1326 250h2v1h-2zM1175 251h1v1h-1zM1323 251h3v1h-3zM847 252h1v1h-1zM1176 252h1v2h-1zM1321 252h2v1h-2zM846 253h1v1h-1zM1318 253h3v1h-3zM845 254h1v1h-1zM1177 254h1v1h-1zM1316 254h2v1h-2zM844 255h1v1h-1zM1178 255h1v1h-1zM1314 255h2v1h-2zM843 256h1v1h-1zM1179 256h1v1h-1zM1312 256h2v1h-2zM842 257h1v1h-1zM1180 257h1v1h-1zM1310 257h2v1h-2zM841 258h1v1h-1zM1181 258h1v1h-1zM1307 258h3v1h-3zM840 259h1v2h-1zM1182 259h1v1h-1zM1305 259h2v1h-2zM1183 260h1v1h-1zM1302 260h3v1h-3zM839 261h1v1h-1zM1184 261h1v1h-1zM1299 261h3v1h-3zM838 262h1v1h-1zM1185 262h1v1h-1zM1297 262h2v1h-2zM837 263h1v1h-1zM1186 263h1v1h-1zM1294 263h3v1h-3zM836 264h1v1h-1zM1187 264h1v1h-1zM1283 264h11v1h-11zM835 265h1v1h-1zM1188 265h1v1h-1zM1281 265h2v1h-2zM834 266h1v1h-1zM1189 266h1v1h-1zM1278 266h3v1h-3zM833 267h1v1h-1zM1190 267h1v1h-1zM1273 267h5v1h-5zM832 268h1v2h-1zM1191 268h2v1h-2zM1265 268h8v1h-8zM1193 269h1v1h-1zM1257 269h8v1h-8zM831 270h1v1h-1zM1194 270h1v1h-1zM1249 270h8v1h-8zM830 271h1v1h-1zM1195 271h1v1h-1zM1243 271h6v1h-6zM829 272h1v1h-1zM1196 272h2v1h-2zM1239 272h4v1h-4zM828 273h1v1h-1zM1198 273h2v1h-2zM1236 273h3v1h-3zM827 274h1v1h-1zM1200 274h2v1h-2zM1234 274h2v1h-2zM826 275h1v2h-1zM1202 275h2v1h-2zM1232 275h2v1h-2zM1204 276h3v1h-3zM1230 276h2v1h-2zM825 277h1v1h-1zM1207 277h4v1h-4zM1227 277h3v1h-3zM824 278h1v1h-1zM1211 278h6v1h-6zM1223 278h4v1h-4zM823 279h1v1h-1zM1217 279h6v1h-6zM822 280h1v2h-1zM821 282h1v1h-1zM820 283h1v1h-1zM819 284h1v2h-1zM818 286h1v1h-1zM817 287h1v1h-1zM816 288h1v2h-1zM815 290h1v1h-1zM814 291h1v1h-1zM813 292h1v2h-1zM812 294h1v1h-1zM811 295h1v1h-1zM810 296h1v1h-1zM809 297h1v1h-1zM808 298h1v1h-1zM807 299h1v1h-1zM806 300h1v1h-1zM805 301h1v1h-1zM804 302h1v1h-1zM803 303h1v1h-1zM802 304h1v1h-1zM801 305h1v1h-1zM800 306h1v1h-1zM799 307h1v1h-1zM798 308h1v1h-1zM797 309h1v1h-1zM796 310h1v1h-1zM795 311h1v1h-1zM794 312h1v1h-1zM793 313h1v1h-1zM792 314h1v2h-1zM791 316h1v1h-1zM790 317h1v1h-1zM789 318h1v1h-1zM788 319h1v1h-1zM787 320h1v1h-1zM786 321h1v1h-1zM785 322h1v1h-1zM784 323h1v2h-1zM783 325h1v1h-1zM782 326h1v1h-1zM781 327h1v1h-1zM780 328h1v1h-1zM779 329h1v2h-1zM778 331h1v1h-1zM777 332h1v1h-1zM776 333h1v2h-1zM775 335h1v1h-1zM774 336h1v1h-1zM773 337h1v2h-1zM772 339h1v1h-1zM771 340h1v1h-1zM770 341h1v1h-1zM769 342h1v1h-1zM768 343h1v2h-1zM767 345h1v1h-1zM766 346h1v1h-1zM765 347h1v1h-1zM764 348h1v1h-1zM763 349h1v1h-1zM762 350h1v1h-1zM761 351h1v1h-1zM760 352h1v1h-1zM759 353h1v1h-1zM758 354h1v1h-1zM757 355h1v1h-1zM756 356h1v1h-1zM755 357h1v1h-1zM754 358h1v1h-1zM753 359h1v1h-1zM752 360h1v1h-1zM751 361h1v1h-1zM750 362h1v1h-1zM749 363h1v1h-1zM748 364h1v1h-1zM747 365h1v1h-1zM745 366h2v1h-2zM744 367h1v1h-1zM743 368h1v1h-1zM741 369h2v1h-2zM740 370h1v1h-1zM738 371h2v1h-2zM737 372h1v1h-1zM735 373h2v1h-2zM733 374h2v1h-2zM732 375h1v1h-1zM731 376h1v1h-1zM730 377h1v1h-1zM729 378h1v1h-1zM727 379h2v1h-2zM726 380h1v1h-1zM725 381h1v1h-1zM523 382h6v1h-6zM724 382h1v1h-1zM521 383h2v1h-2zM529 383h5v1h-5zM723 383h1v1h-1zM518 384h3v1h-3zM534 384h3v1h-3zM722 384h1v1h-1zM515 385h3v1h-3zM537 385h2v1h-2zM721 385h1v1h-1zM513 386h2v1h-2zM539 386h3v1h-3zM719 386h2v1h-2zM510 387h3v1h-3zM542 387h2v1h-2zM718 387h1v1h-1zM505 388h5v1h-5zM544 388h2v1h-2zM717 388h1v1h-1zM499 389h6v1h-6zM546 389h2v1h-2zM716 389h1v1h-1zM495 390h4v1h-4zM548 390h1v1h-1zM715 390h1v1h-1zM489 391h6v1h-6zM549 391h2v1h-2zM714 391h1v1h-1zM484 392h5v1h-5zM551 392h2v1h-2zM713 392h1v1h-1zM483 393h1v1h-1zM553 393h1v1h-1zM711 393h2v1h-2zM482 394h1v1h-1zM554 394h2v1h-2zM710 394h1v1h-1zM481 395h1v1h-1zM556 395h1v1h-1zM709 395h1v1h-1zM479 396h2v1h-2zM557 396h1v1h-1zM708 396h1v1h-1zM478 397h1v1h-1zM558 397h1v1h-1zM707 397h1v1h-1zM477 398h1v1h-1zM559 398h2v1h-2zM705 398h2v1h-2zM476 399h1v1h-1zM561 399h1v1h-1zM704 399h1v1h-1zM475 400h1v1h-1zM562 400h1v1h-1zM703 400h1v1h-1zM474 401h1v1h-1zM563 401h1v1h-1zM701 401h2v1h-2zM473 402h1v1h-1zM564 402h1v1h-1zM699 402h2v1h-2zM471 403h2v1h-2zM565 403h2v1h-2zM697 403h2v1h-2zM470 404h1v1h-1zM567 404h1v1h-1zM694 404h3v1h-3zM469 405h1v1h-1zM568 405h1v1h-1zM691 405h3v1h-3zM468 406h1v1h-1zM569 406h2v1h-2zM689 406h2v1h-2zM467 407h1v1h-1zM571 407h1v1h-1zM686 407h3v1h-3zM466 408h1v1h-1zM572 408h1v1h-1zM675 408h11v1h-11zM465 409h1v1h-1zM573 409h2v1h-2zM671 409h4v1h-4zM464 410h1v1h-1zM575 410h2v1h-2zM668 410h3v1h-3zM463 411h1v1h-1zM577 411h1v1h-1zM666 411h2v1h-2zM462 412h1v1h-1zM578 412h2v1h-2zM664 412h2v1h-2zM461 413h1v1h-1zM580 413h2v1h-2zM662 413h2v1h-2zM460 414h1v1h-1zM582 414h2v1h-2zM660 414h2v1h-2zM459 415h1v1h-1zM584 415h2v1h-2zM658 415h2v1h-2zM457 416h2v1h-2zM586 416h2v1h-2zM656 416h2v1h-2zM456 417h1v1h-1zM588 417h2v1h-2zM654 417h2v1h-2zM455 418h1v1h-1zM590 418h2v1h-2zM651 418h3v1h-3zM453 419h2v1h-2zM592 419h2v1h-2zM649 419h2v1h-2zM452 420h1v1h-1zM594 420h2v1h-2zM646 420h3v1h-3zM450 421h2v1h-2zM596 421h3v1h-3zM643 421h3v1h-3zM448 422h2v1h-2zM599 422h4v1h-4zM639 422h4v1h-4zM169 423h16v1h-16zM446 423h2v1h-2zM603 423h36v1h-36zM163 424h6v1h-6zM185 424h5v1h-5zM444 424h2v1h-2zM161 425h2v1h-2zM190 425h3v1h-3zM443 425h1v1h-1zM158 426h3v1h-3zM193 426h2v1h-2zM441 426h2v1h-2zM156 427h2v1h-2zM195 427h2v1h-2zM440 427h1v1h-1zM154 428h2v1h-2zM197 428h2v1h-2zM439 428h1v1h-1zM152 429h2v1h-2zM199 429h2v1h-2zM437 429h2v1h-2zM150 430h2v1h-2zM201 430h1v1h-1zM436 430h1v1h-1zM148 431h2v1h-2zM202 431h2v1h-2zM435 431h1v1h-1zM146 432h2v1h-2zM204 432h3v1h-3zM434 432h1v1h-1zM145 433h1v1h-1zM207 433h4v1h-4zM433 433h1v1h-1zM143 434h2v1h-2zM211 434h6v1h-6zM432 434h1v2h-1zM84 435h2v1h-2zM141 435h2v1h-2zM217 435h5v1h-5zM82 436h2v1h-2zM86 436h2v1h-2zM139 436h2v1h-2zM222 436h3v1h-3zM431 436h1v1h-1zM80 437h2v1h-2zM88 437h2v1h-2zM137 437h2v1h-2zM225 437h2v1h-2zM430 437h1v1h-1zM78 438h2v1h-2zM90 438h2v1h-2zM134 438h3v1h-3zM227 438h3v1h-3zM429 438h1v1h-1zM76 439h2v1h-2zM92 439h3v1h-3zM131 439h3v1h-3zM230 439h2v1h-2zM428 439h1v1h-1zM75 440h1v1h-1zM95 440h4v1h-4zM127 440h4v1h-4zM232 440h2v1h-2zM427 440h1v2h-1zM74 441h1v2h-1zM99 441h28v1h-28zM234 441h2v1h-2zM236 442h2v1h-2zM426 442h1v1h-1zM73 443h1v1h-1zM238 443h2v1h-2zM425 443h1v2h-1zM72 444h1v1h-1zM240 444h2v1h-2zM71 445h1v1h-1zM242 445h2v1h-2zM424 445h1v1h-1zM70 446h1v2h-1zM244 446h5v1h-5zM423 446h1v2h-1zM249 447h5v1h-5zM69 448h1v1h-1zM254 448h2v1h-2zM422 448h1v1h-1zM68 449h1v1h-1zM256 449h2v1h-2zM421 449h1v2h-1zM67 450h1v2h-1zM258 450h2v1h-2zM260 451h1v1h-1zM420 451h1v1h-1zM66 452h1v1h-1zM261 452h2v1h-2zM419 452h1v2h-1zM65 453h1v2h-1zM263 453h2v1h-2zM265 454h1v1h-1zM418 454h1v1h-1zM64 455h1v1h-1zM266 455h2v1h-2zM417 455h1v1h-1zM63 456h1v2h-1zM268 456h3v1h-3zM416 456h1v2h-1zM271 457h4v1h-4zM62 458h1v1h-1zM275 458h4v1h-4zM415 458h1v1h-1zM61 459h1v2h-1zM279 459h4v1h-4zM414 459h1v1h-1zM283 460h3v1h-3zM413 460h1v2h-1zM60 461h1v1h-1zM286 461h2v1h-2zM59 462h1v2h-1zM288 462h2v1h-2zM412 462h1v1h-1zM290 463h2v1h-2zM411 463h1v1h-1zM58 464h1v2h-1zM292 464h2v1h-2zM410 464h1v1h-1zM294 465h2v1h-2zM409 465h1v1h-1zM57 466h1v2h-1zM296 466h2v1h-2zM408 466h1v2h-1zM298 467h2v1h-2zM56 468h1v2h-1zM300 468h1v1h-1zM407 468h1v1h-1zM301 469h2v1h-2zM406 469h1v1h-1zM55 470h1v2h-1zM303 470h2v1h-2zM405 470h1v1h-1zM305 471h1v1h-1zM404 471h1v1h-1zM54 472h1v2h-1zM306 472h2v1h-2zM403 472h1v1h-1zM308 473h1v1h-1zM402 473h1v1h-1zM53 474h1v2h-1zM309 474h1v1h-1zM401 474h1v1h-1zM310 475h1v1h-1zM400 475h1v1h-1zM52 476h1v2h-1zM311 476h2v1h-2zM399 476h1v1h-1zM313 477h1v1h-1zM398 477h1v1h-1zM51 478h1v2h-1zM314 478h1v1h-1zM397 478h1v1h-1zM315 479h1v1h-1zM396 479h1v1h-1zM50 480h1v2h-1zM316 480h1v1h-1zM395 480h1v1h-1zM317 481h2v1h-2zM393 481h2v1h-2zM49 482h1v2h-1zM319 482h1v1h-1zM392 482h1v1h-1zM320 483h1v1h-1zM391 483h1v1h-1zM48 484h1v3h-1zM321 484h2v1h-2zM389 484h2v1h-2zM323 485h1v1h-1zM388 485h1v1h-1zM324 486h3v1h-3zM386 486h2v1h-2zM47 487h1v2h-1zM327 487h4v1h-4zM385 487h1v1h-1zM331 488h3v1h-3zM383 488h2v1h-2zM46 489h1v2h-1zM334 489h3v1h-3zM381 489h2v1h-2zM337 490h2v1h-2zM379 490h2v1h-2zM45 491h1v2h-1zM339 491h4v1h-4zM377 491h2v1h-2zM343 492h4v1h-4zM374 492h3v1h-3zM44 493h1v3h-1zM347 493h14v1h-14zM369 493h5v1h-5zM361 494h8v1h-8zM43 496h1v2h-1zM42 498h1v3h-1zM41 501h1v2h-1zM40 503h1v3h-1zM39 506h1v2h-1zM38 508h1v3h-1zM37 511h1v2h-1zM36 513h1v3h-1zM35 516h1v2h-1zM34 518h1v2h-1zM33 520h1v3h-1zM32 523h1v2h-1zM31 525h1v3h-1zM30 528h1v2h-1zM29 530h1v2h-1zM28 532h1v3h-1zM27 535h1v2h-1zM26 537h1v2h-1zM25 539h1v2h-1zM24 541h1v2h-1zM23 543h1v2h-1zM22 545h1v2h-1zM21 547h1v2h-1zM20 549h1v2h-1zM19 551h1v1h-1zM17 552h2v1h-2zM16 553h1v1h-1zM15 554h1v1h-1zM13 555h2v1h-2zM11 556h2v1h-2zM7 557h4v1h-4zM0 558h7v1h-7z"/>
<path fill="#3cb371" shape-rendering="crispEdges" d="M1044 218h1v1h-1zM1042 219h2v1h-2zM1045 219h1v2h-1zM1040 220h2v1h-2zM1038 221h2v1h-2zM1046 221h1v1h-1zM932 222h5v1h-5zM1036 222h2v1h-2zM1047 222h1v1h-1zM931 223h1v1h-1zM937 223h8v1h-8zM1035 223h1v1h-1zM1048 223h1v2h-1zM930 224h1v1h-1zM945 224h16v1h-16zM1033 224h2v1h-2zM929 225h1v1h-1zM961 225h12v1h-12zM1032 225h1v1h-1zM1049 225h1v1h-1zM927 226h2v1h-2zM973 226h1v1h-1zM1031 226h1v1h-1zM1050 226h1v1h-1zM926 227h1v1h-1zM974 227h1v1h-1zM1029 227h2v1h-2zM1051 227h1v2h-1zM925 228h1v1h-1zM975 228h1v1h-1zM1028 228h1v1h-1zM924 229h1v1h-1zM976 229h1v2h-1zM1027 229h1v1h-1zM1052 229h1v1h-1zM923 230h1v1h-1zM1026 230h1v1h-1zM1053 230h1v1h-1zM922 231h1v1h-1zM977 231h1v1h-1zM1025 231h1v1h-1zM1054 231h1v1h-1zM921 232h1v1h-1zM978 232h1v1h-1zM1023 232h2v1h-2zM1055 232h2v1h-2zM920 233h1v2h-1zM979 233h1v1h-1zM1022 233h1v1h-1zM1057 233h1v1h-1zM980 234h1v1h-1zM1021 234h1v1h-1zM1058 234h1v1h-1zM919 235h1v1h-1zM981 235h2v1h-2zM1020 235h1v1h-1zM1059 235h1v1h-1zM918 236h1v1h-1zM983 236h1v1h-1zM1019 236h1v1h-1zM1060 236h1v2h-1zM917 237h1v1h-1zM984 237h1v1h-1zM1017 237h2v1h-2zM916 238h1v1h-1zM985 238h2v1h-2zM1016 238h1v1h-1zM1061 238h1v4h-1zM915 239h1v2h-1zM987 239h1v1h-1zM1015 239h1v1h-1zM988 240h3v1h-3zM1013 240h2v1h-2zM914 241h1v2h-1zM991 241h4v1h-4zM1011 241h2v1h-2zM995 242h6v1h-6zM1007 242h4v1h-4zM1062 242h1v3h-1zM913 243h1v1h-1zM1001 243h6v1h-6zM912 244h1v2h-1zM1063 245h1v4h-1zM911 246h1v1h-1zM910 247h1v2h-1zM909 249h1v2h-1zM1064 249h1v3h-1zM908 251h1v1h-1zM907 252h1v2h-1zM1065 252h1v4h-1zM906 254h1v2h-1zM905 256h1v2h-1zM1066 256h1v3h-1zM904 258h1v2h-1zM1067 259h1v4h-1zM903 260h1v2h-1zM902 262h1v2h-1zM1068 263h1v3h-1zM901 264h1v2h-1zM900 266h1v3h-1zM1069 266h1v3h-1zM899 269h1v2h-1zM1070 269h1v3h-1zM1411 269h6v1h-6zM1407 270h4v1h-4zM1417 270h5v1h-5zM898 271h1v2h-1zM1403 271h4v1h-4zM1422 271h3v1h-3zM1071 272h1v3h-1zM1401 272h2v1h-2zM1425 272h2v1h-2zM897 273h1v2h-1zM1398 273h3v1h-3zM1427 273h4v1h-4zM1387 274h11v1h-11zM1431 274h4v1h-4zM896 275h1v3h-1zM1072 275h1v2h-1zM1383 275h4v1h-4zM1435 275h6v1h-6zM1491 275h2v1h-2zM1379 276h4v1h-4zM1441 276h8v1h-8zM1475 276h6v1h-6zM1487 276h4v1h-4zM1073 277h1v3h-1zM1375 277h4v1h-4zM1449 277h5v1h-5zM1471 277h4v1h-4zM1481 277h6v1h-6zM895 278h1v2h-1zM1372 278h3v1h-3zM1454 278h3v1h-3zM1467 278h4v1h-4zM1370 279h2v1h-2zM1457 279h2v1h-2zM1463 279h4v1h-4zM894 280h1v2h-1zM1074 280h1v3h-1zM1368 280h2v1h-2zM1459 280h4v1h-4zM1366 281h2v1h-2zM893 282h1v2h-1zM1363 282h3v1h-3zM1075 283h1v3h-1zM1340 283h2v1h-2zM1359 283h4v1h-4zM892 284h1v3h-1zM1339 284h1v2h-1zM1342 284h2v1h-2zM1355 284h4v1h-4zM1344 285h2v1h-2zM1353 285h2v1h-2zM1076 286h1v3h-1zM1338 286h1v2h-1zM1346 286h2v1h-2zM1350 286h3v1h-3zM891 287h1v2h-1zM1348 287h2v1h-2zM1337 288h1v1h-1zM890 289h1v3h-1zM1077 289h1v2h-1zM1336 289h1v2h-1zM1078 291h1v2h-1zM1335 291h1v1h-1zM889 292h1v2h-1zM1334 292h1v2h-1zM1079 293h1v3h-1zM888 294h1v3h-1zM1333 294h1v2h-1zM1080 296h1v2h-1zM1332 296h1v1h-1zM887 297h1v2h-1zM1331 297h1v2h-1zM1081 298h1v3h-1zM886 299h1v3h-1zM1330 299h1v2h-1zM1082 301h1v2h-1zM1329 301h1v1h-1zM885 302h1v2h-1zM1328 302h1v2h-1zM1083 303h1v2h-1zM884 304h1v2h-1zM1327 304h1v1h-1zM1084 305h1v2h-1zM1326 305h1v2h-1zM883 306h1v2h-1zM1085 307h1v2h-1zM1325 307h1v2h-1zM882 308h1v2h-1zM1086 309h1v2h-1zM1324 309h1v1h-1zM881 310h1v2h-1zM1323 310h1v1h-1zM1087 311h1v1h-1zM1322 311h1v1h-1zM880 312h1v2h-1zM1088 312h1v2h-1zM1321 312h1v1h-1zM1320 313h1v2h-1zM879 314h1v2h-1zM1089 314h1v1h-1zM1090 315h1v2h-1zM1319 315h1v1h-1zM878 316h1v2h-1zM1318 316h1v1h-1zM1091 317h1v2h-1zM1317 317h1v1h-1zM877 318h1v2h-1zM1316 318h1v1h-1zM1092 319h1v1h-1zM1315 319h1v2h-1zM876 320h1v2h-1zM1093 320h1v1h-1zM1094 321h1v1h-1zM1314 321h1v1h-1zM875 322h1v2h-1zM1095 322h1v1h-1zM1313 322h1v2h-1zM1096 323h1v2h-1zM874 324h1v2h-1zM1312 324h1v1h-1zM1097 325h1v1h-1zM1311 325h1v2h-1zM873 326h1v2h-1zM1098 326h1v1h-1zM1099 327h1v1h-1zM1310 327h1v1h-1zM872 328h1v1h-1zM1100 328h2v1h-2zM1309 328h1v2h-1zM871 329h1v2h-1zM1102 329h2v1h-2zM1104 330h2v1h-2zM1308 330h1v1h-1zM870 331h1v2h-1zM1106 331h2v1h-2zM1307 331h1v1h-1zM1108 332h1v1h-1zM1243 332h20v1h-20zM1306 332h1v1h-1zM869 333h1v2h-1zM1109 333h2v1h-2zM1241 333h2v1h-2zM1263 333h4v1h-4zM1305 333h1v1h-1zM1111 334h2v1h-2zM1238 334h3v1h-3zM1267 334h4v1h-4zM1303 334h2v1h-2zM868 335h1v2h-1zM1113 335h1v1h-1zM1225 335h13v1h-13zM1271 335h4v1h-4zM1302 335h1v1h-1zM1114 336h2v1h-2zM1219 336h6v1h-6zM1275 336h3v1h-3zM1301 336h1v1h-1zM867 337h1v2h-1zM1116 337h1v1h-1zM1217 337h2v1h-2zM1278 337h3v1h-3zM1299 337h2v1h-2zM1117 338h1v1h-1zM1214 338h3v1h-3zM1281 338h2v1h-2zM1295 338h4v1h-4zM866 339h1v2h-1zM1118 339h1v1h-1zM1209 339h5v1h-5zM1283 339h12v1h-12zM1119 340h2v1h-2zM1204 340h5v1h-5zM865 341h1v2h-1zM1121 341h1v1h-1zM1203 341h1v2h-1zM1122 342h1v1h-1zM864 343h1v3h-1zM1123 343h1v1h-1zM1202 343h1v1h-1zM1124 344h1v1h-1zM1201 344h1v1h-1zM1125 345h2v1h-2zM1200 345h1v2h-1zM863 346h1v2h-1zM1127 346h1v1h-1zM1128 347h1v1h-1zM1199 347h1v1h-1zM862 348h1v2h-1zM1129 348h2v1h-2zM1198 348h1v1h-1zM1131 349h1v1h-1zM1197 349h1v2h-1zM861 350h1v2h-1zM1132 350h1v1h-1zM1133 351h1v1h-1zM1196 351h1v1h-1zM860 352h1v3h-1zM1134 352h1v1h-1zM1195 352h1v2h-1zM1135 353h1v1h-1zM1136 354h1v1h-1zM1194 354h1v2h-1zM859 355h1v3h-1zM1137 355h1v1h-1zM1138 356h1v1h-1zM1193 356h1v2h-1zM1139 357h1v1h-1zM858 358h1v3h-1zM1140 358h1v1h-1zM1192 358h1v1h-1zM1141 359h1v2h-1zM1191 359h1v2h-1zM857 361h1v3h-1zM1142 361h1v1h-1zM1190 361h1v2h-1zM1143 362h1v1h-1zM1144 363h1v2h-1zM1189 363h1v2h-1zM856 364h1v2h-1zM1145 365h1v1h-1zM1188 365h1v1h-1zM855 366h1v3h-1zM1146 366h1v1h-1zM1187 366h1v2h-1zM1147 367h1v2h-1zM1186 368h1v1h-1zM854 369h1v3h-1zM1148 369h1v1h-1zM1185 369h1v1h-1zM1149 370h1v1h-1zM1184 370h1v2h-1zM1150 371h1v1h-1zM853 372h1v3h-1zM1151 372h1v1h-1zM1183 372h1v1h-1zM1152 373h1v1h-1zM1182 373h1v1h-1zM1153 374h1v1h-1zM1181 374h1v2h-1zM852 375h1v3h-1zM1154 375h1v1h-1zM1155 376h1v1h-1zM1177 376h4v1h-4zM1156 377h21v1h-21zM851 378h1v2h-1zM850 380h1v3h-1zM849 383h1v2h-1zM848 385h1v3h-1zM847 388h1v2h-1zM846 390h1v3h-1zM845 393h1v2h-1zM844 395h1v3h-1zM843 398h1v2h-1zM842 400h1v2h-1zM841 402h1v2h-1zM840 404h1v2h-1zM839 406h1v2h-1zM838 408h1v2h-1zM837 410h1v2h-1zM836 412h1v2h-1zM835 414h1v2h-1zM834 416h1v2h-1zM833 418h1v1h-1zM832 419h1v2h-1zM831 421h1v1h-1zM830 422h1v2h-1zM829 424h1v2h-1zM828 426h1v1h-1zM827 427h1v1h-1zM826 428h1v2h-1zM825 430h1v1h-1zM824 431h1v1h-1zM823 432h1v1h-1zM747 433h6v1h-6zM761 433h8v1h-8zM822 433h1v2h-1zM745 434h2v1h-2zM753 434h8v1h-8zM769 434h4v1h-4zM742 435h3v1h-3zM773 435h1v1h-1zM821 435h1v1h-1zM737 436h5v1h-5zM774 436h1v1h-1zM820 436h1v1h-1zM732 437h5v1h-5zM775 437h1v1h-1zM819 437h1v1h-1zM731 438h1v1h-1zM776 438h1v2h-1zM818 438h1v1h-1zM730 439h1v1h-1zM817 439h1v1h-1zM729 440h1v1h-1zM777 440h1v1h-1zM816 440h1v2h-1zM728 441h1v1h-1zM778 441h1v1h-1zM727 442h1v1h-1zM779 442h1v1h-1zM815 442h1v1h-1zM726 443h1v1h-1zM780 443h1v1h-1zM814 443h1v1h-1zM725 444h1v1h-1zM781 444h2v1h-2zM813 444h1v1h-1zM724 445h1v1h-1zM783 445h2v1h-2zM811 445h2v1h-2zM723 446h1v2h-1zM785 446h1v1h-1zM809 446h2v1h-2zM786 447h2v1h-2zM806 447h3v1h-3zM722 448h1v2h-1zM788 448h3v1h-3zM803 448h3v1h-3zM791 449h4v1h-4zM799 449h4v1h-4zM721 450h1v1h-1zM795 450h4v1h-4zM720 451h1v2h-1zM719 453h1v1h-1zM718 454h1v2h-1zM717 456h1v2h-1zM716 458h1v1h-1zM715 459h1v1h-1zM714 460h1v1h-1zM713 461h1v1h-1zM711 462h2v1h-2zM524 463h2v1h-2zM710 463h1v1h-1zM523 464h1v1h-1zM526 464h2v1h-2zM709 464h1v1h-1zM522 465h1v2h-1zM528 465h2v1h-2zM708 465h1v1h-1zM530 466h2v1h-2zM707 466h1v1h-1zM521 467h1v1h-1zM532 467h1v1h-1zM706 467h1v1h-1zM520 468h1v1h-1zM533 468h2v1h-2zM705 468h1v1h-1zM519 469h1v1h-1zM535 469h2v1h-2zM704 469h1v1h-1zM518 470h1v2h-1zM537 470h1v1h-1zM703 470h1v1h-1zM538 471h2v1h-2zM702 471h1v1h-1zM517 472h1v1h-1zM540 472h1v1h-1zM701 472h1v1h-1zM516 473h1v1h-1zM541 473h1v2h-1zM699 473h2v1h-2zM515 474h1v2h-1zM697 474h2v1h-2zM542 475h1v1h-1zM694 475h3v1h-3zM514 476h1v1h-1zM543 476h1v1h-1zM691 476h3v1h-3zM513 477h1v1h-1zM544 477h1v2h-1zM689 477h2v1h-2zM512 478h1v2h-1zM686 478h3v1h-3zM545 479h1v1h-1zM668 479h18v1h-18zM511 480h1v1h-1zM546 480h1v1h-1zM667 480h1v1h-1zM510 481h1v1h-1zM547 481h1v2h-1zM665 481h2v1h-2zM171 482h18v1h-18zM509 482h1v2h-1zM664 482h1v1h-1zM167 483h4v1h-4zM189 483h2v1h-2zM548 483h1v1h-1zM663 483h1v1h-1zM164 484h3v1h-3zM191 484h1v1h-1zM507 484h2v1h-2zM549 484h1v1h-1zM661 484h2v1h-2zM162 485h2v1h-2zM192 485h1v1h-1zM203 485h19v1h-19zM503 485h4v1h-4zM550 485h1v1h-1zM625 485h8v1h-8zM660 485h1v1h-1zM161 486h1v1h-1zM193 486h2v1h-2zM201 486h2v1h-2zM222 486h3v1h-3zM500 486h3v1h-3zM551 486h1v1h-1zM601 486h24v1h-24zM633 486h5v1h-5zM658 486h2v1h-2zM159 487h2v1h-2zM195 487h1v1h-1zM198 487h3v1h-3zM225 487h2v1h-2zM499 487h1v1h-1zM552 487h1v2h-1zM596 487h5v1h-5zM638 487h3v1h-3zM657 487h1v1h-1zM157 488h2v1h-2zM196 488h2v1h-2zM227 488h2v1h-2zM498 488h1v1h-1zM595 488h1v1h-1zM641 488h2v1h-2zM655 488h2v1h-2zM156 489h1v1h-1zM229 489h1v1h-1zM497 489h1v1h-1zM553 489h1v1h-1zM594 489h1v1h-1zM643 489h6v1h-6zM653 489h2v1h-2zM155 490h1v1h-1zM230 490h1v1h-1zM495 490h2v1h-2zM554 490h1v1h-1zM593 490h1v1h-1zM649 490h4v1h-4zM154 491h1v2h-1zM231 491h1v1h-1zM494 491h1v1h-1zM555 491h1v1h-1zM591 491h2v1h-2zM232 492h1v2h-1zM493 492h1v1h-1zM556 492h1v1h-1zM590 492h1v1h-1zM153 493h1v1h-1zM492 493h1v1h-1zM557 493h1v1h-1zM589 493h1v1h-1zM152 494h1v1h-1zM233 494h1v1h-1zM490 494h2v1h-2zM558 494h1v1h-1zM588 494h1v1h-1zM151 495h1v1h-1zM234 495h1v1h-1zM489 495h1v1h-1zM559 495h1v1h-1zM586 495h2v1h-2zM150 496h1v2h-1zM235 496h1v1h-1zM487 496h2v1h-2zM560 496h1v2h-1zM585 496h1v1h-1zM236 497h1v1h-1zM485 497h2v1h-2zM583 497h2v1h-2zM149 498h1v1h-1zM237 498h1v1h-1zM484 498h1v2h-1zM561 498h1v1h-1zM581 498h2v1h-2zM148 499h1v1h-1zM238 499h1v1h-1zM562 499h1v1h-1zM580 499h1v1h-1zM147 500h1v2h-1zM239 500h1v1h-1zM483 500h1v2h-1zM563 500h1v1h-1zM578 500h2v1h-2zM240 501h1v2h-1zM564 501h3v1h-3zM576 501h2v1h-2zM146 502h1v1h-1zM482 502h1v2h-1zM567 502h4v1h-4zM574 502h2v1h-2zM145 503h1v1h-1zM241 503h1v1h-1zM571 503h3v1h-3zM144 504h1v2h-1zM242 504h1v1h-1zM481 504h1v3h-1zM243 505h1v1h-1zM84 506h1v1h-1zM143 506h1v1h-1zM244 506h2v1h-2zM83 507h1v2h-1zM85 507h2v1h-2zM142 507h1v1h-1zM246 507h2v1h-2zM480 507h1v2h-1zM87 508h2v1h-2zM141 508h1v2h-1zM248 508h2v1h-2zM82 509h1v1h-1zM89 509h1v1h-1zM250 509h2v1h-2zM479 509h1v3h-1zM81 510h1v2h-1zM90 510h2v1h-2zM140 510h1v1h-1zM252 510h1v2h-1zM92 511h2v1h-2zM139 511h1v1h-1zM80 512h1v1h-1zM94 512h2v1h-2zM137 512h2v1h-2zM253 512h1v2h-1zM478 512h1v2h-1zM79 513h1v2h-1zM96 513h2v1h-2zM136 513h1v1h-1zM98 514h2v1h-2zM135 514h1v1h-1zM254 514h1v2h-1zM477 514h1v2h-1zM78 515h1v1h-1zM100 515h5v1h-5zM133 515h2v1h-2zM77 516h1v2h-1zM105 516h8v1h-8zM129 516h4v1h-4zM255 516h1v2h-1zM476 516h1v3h-1zM113 517h16v1h-16zM76 518h1v4h-1zM256 518h1v2h-1zM475 519h1v2h-1zM257 520h1v2h-1zM474 521h1v2h-1zM75 522h1v8h-1zM258 522h1v2h-1zM473 523h1v2h-1zM259 524h1v2h-1zM472 525h1v3h-1zM260 526h1v2h-1zM261 528h1v2h-1zM471 528h1v2h-1zM74 530h1v7h-1zM262 530h1v2h-1zM470 530h1v2h-1zM263 532h1v2h-1zM469 532h1v2h-1zM264 534h1v3h-1zM468 534h1v2h-1zM467 536h1v2h-1zM73 537h1v8h-1zM265 537h1v2h-1zM466 538h1v2h-1zM266 539h1v2h-1zM465 540h1v2h-1zM267 541h1v2h-1zM464 542h1v2h-1zM268 543h1v2h-1zM463 544h1v2h-1zM72 545h1v7h-1zM269 545h1v1h-1zM270 546h1v1h-1zM462 546h1v2h-1zM271 547h2v1h-2zM273 548h1v1h-1zM461 548h1v2h-1zM274 549h1v1h-1zM275 550h1v1h-1zM460 550h1v2h-1zM276 551h2v1h-2zM71 552h1v8h-1zM278 552h3v1h-3zM459 552h1v2h-1zM281 553h2v1h-2zM283 554h3v1h-3zM458 554h1v1h-1zM286 555h2v1h-2zM457 555h1v1h-1zM288 556h2v1h-2zM361 556h4v1h-4zM456 556h1v2h-1zM290 557h2v1h-2zM348 557h13v1h-13zM365 557h2v1h-2zM292 558h1v1h-1zM346 558h2v1h-2zM367 558h2v1h-2zM455 558h1v1h-1zM293 559h2v1h-2zM344 559h2v1h-2zM369 559h1v1h-1zM454 559h1v1h-1zM70 560h1v7h-1zM295 560h2v1h-2zM342 560h2v1h-2zM370 560h2v1h-2zM453 560h1v2h-1zM297 561h1v1h-1zM339 561h3v1h-3zM372 561h1v1h-1zM298 562h2v1h-2zM335 562h4v1h-4zM373 562h1v1h-1zM452 562h1v1h-1zM300 563h1v1h-1zM331 563h4v1h-4zM374 563h1v2h-1zM451 563h1v1h-1zM301 564h2v1h-2zM329 564h2v1h-2zM450 564h1v1h-1zM303 565h2v1h-2zM326 565h3v1h-3zM375 565h1v1h-1zM449 565h1v1h-1zM305 566h1v1h-1zM315 566h11v1h-11zM376 566h1v1h-1zM448 566h1v2h-1zM69 567h1v5h-1zM306 567h2v1h-2zM311 567h4v1h-4zM377 567h1v1h-1zM308 568h3v1h-3zM378 568h1v2h-1zM447 568h1v1h-1zM446 569h1v1h-1zM379 570h1v1h-1zM445 570h1v1h-1zM380 571h1v1h-1zM444 571h1v1h-1z"/>
<g shape-rendering="crispEdges">
<path fill="#000" d="M4 447h1v62h-1z M12 434h1v49h-1z M20 411h1v46h-1z M28 415h1v6h-1z M36 392h1v31h-1z M44 351h1v52h-1z M52 360h1v69h-1z M60 396h1v44h-1z M68 397h1v43h-1z M76 407h1v5h-1z M84 408h1v28h-1z M92 426h1v72h-1z M100 447h1v41h-1z M108 436h1v40h-1z M116 450h1v30h-1z M124 453h1v3h-1z M132 421h1v36h-1z M140 398h1v43h-1z M148 410h1v37h-1z M156 353h1v79h-1z M164 375h1v36h-1z M172 419h1v6h-1z M180 414h1v27h-1z M188 411h1v24h-1z M196 423h1v48h-1z M204 435h1v56h-1z M212 417h1v42h-1z M220 435h1v7h-1z M228 428h1v57h-1z M236 450h1v47h-1z M244 463h1v49h-1z M252 498h1v30h-1z M260 500h1v47h-1z M268 551h1v9h-1z M276 505h1v53h-1z M284 479h1v42h-1z M292 483h1v24h-1z M300 496h1v24h-1z M308 502h1v28h-1z M316 518h1v4h-1z M324 513h1v16h-1z M332 455h1v61h-1z M340 458h1v56h-1z M348 462h1v41h-1z M356 444h1v38h-1z M364 459h1v5h-1z M372 403h1v60h-1z M380 375h1v39h-1z M388 363h1v23h-1z M396 356h1v50h-1z M404 321h1v55h-1z M412 321h1v14h-1z M420 317h1v42h-1z M428 312h1v51h-1z M436 291h1v41h-1z M444 313h1v67h-1z M452 349h1v67h-1z M460 399h1v8h-1z M468 354h1v69h-1z M476 336h1v50h-1z M484 373h1v29h-1z M492 382h1v60h-1z M500 421h1v42h-1z M508 459h1v6h-1z M516 402h1v64h-1z M524 393h1v38h-1z M532 389h1v49h-1z M540 418h1v28h-1z M548 428h1v46h-1z M556 460h1v6h-1z M564 445h1v52h-1z M572 441h1v54h-1z M580 409h1v48h-1z M588 394h1v28h-1z M596 410h1v19h-1z M604 413h1v4h-1z M612 398h1v18h-1z M620 372h1v48h-1z M628 360h1v43h-1z M636 343h1v27h-1z M644 345h1v37h-1z M652 355h1v5h-1z M660 343h1v45h-1z M668 378h1v35h-1z M676 350h1v33h-1z M684 360h1v39h-1z M692 378h1v24h-1z M700 379h1v3h-1z M708 345h1v54h-1z M716 307h1v44h-1z M724 316h1v37h-1z M732 310h1v33h-1z M740 294h1v33h-1z M748 295h1v7h-1z M756 258h1v41h-1z M764 240h1v43h-1z M772 217h1v39h-1z M780 179h1v65h-1z M788 160h1v34h-1z M796 184h1v7h-1z M804 181h1v41h-1z M812 183h1v47h-1z M820 163h1v39h-1z M828 155h1v25h-1z M836 168h1v52h-1z M844 203h1v4h-1z M852 185h1v31h-1z M860 174h1v34h-1z M868 198h1v24h-1z M876 177h1v31h-1z M884 170h1v36h-1z M892 183h1v6h-1z M900 178h1v18h-1z M908 129h1v56h-1z M916 125h1v65h-1z M924 140h1v60h-1z M932 129h1v73h-1z M940 185h1v5h-1z M948 168h1v36h-1z M956 160h1v42h-1z M964 142h1v40h-1z M972 119h1v46h-1z M980 92h1v63h-1z M988 92h1v6h-1z M996 78h1v35h-1z M1004 45h1v48h-1z M1012 76h1v44h-1z M1020 95h1v40h-1z M1028 106h1v53h-1z M1036 128h1v7h-1z M1044 128h1v44h-1z M1052 161h1v81h-1z M1060 214h1v51h-1z M1068 210h1v96h-1z M1076 271h1v39h-1z M1084 291h1v6h-1z M1092 252h1v48h-1z M1100 250h1v41h-1z M1108 220h1v49h-1z M1116 223h1v50h-1z M1124 222h1v32h-1z M1132 245h1v4h-1z M1140 235h1v70h-1z M1148 271h1v58h-1z M1156 304h1v38h-1z M1164 302h1v34h-1z M1172 294h1v44h-1z M1180 308h1v5h-1z M1188 248h1v66h-1z M1196 258h1v30h-1z M1204 243h1v51h-1z M1212 230h1v59h-1z M1220 239h1v44h-1z M1228 246h1v5h-1z M1236 224h1v36h-1z M1244 220h1v52h-1z M1252 248h1v31h-1z M1260 233h1v30h-1z M1268 208h1v44h-1z M1276 208h1v5h-1z M1284 192h1v29h-1z M1292 198h1v54h-1z M1300 199h1v74h-1z M1308 212h1v51h-1z M1316 236h1v38h-1z M1324 249h1v5h-1z M1332 213h1v39h-1z M1340 230h1v26h-1z M1348 158h1v82h-1z M1356 168h1v30h-1z M1364 178h1v39h-1z M1372 203h1v5h-1z M1380 195h1v31h-1z M1388 193h1v30h-1z M1396 199h1v55h-1z M1404 213h1v54h-1z M1412 227h1v33h-1z M1420 245h1v8h-1z M1428 243h1v33h-1z M1436 175h1v79h-1z M1444 171h1v84h-1z M1452 166h1v80h-1z M1460 158h1v32h-1z M1468 155h1v11h-1z M1476 145h1v36h-1z M1484 127h1v40h-1z M1492 108h1v46h-1z"/>
<path fill="#000" fill-rule="evenodd" d="M2 465h5v39h-5z M3 466v37h3v-37z M10 445h5v21h-5z M11 446v19h3v-19z M18 422h5v24h-5z M19 423v22h3v-22z M34 398h5v23h-5z M35 399v21h3v-21z M42 360h5v39h-5z M43 361v37h3v-37z M98 470h5v8h-5z M99 471v6h3v-6z M106 459h5v12h-5z M107 460v10h3v-10z M130 434h5v21h-5z M131 435v19h3v-19z M138 429h5v6h-5z M139 430v4h3v-4z M146 416h5v14h-5z M147 417v12h3v-12z M154 375h5v42h-5z M155 376v40h3v-40z M202 451h5v19h-5z M203 452v17h3v-17z M210 438h5v14h-5z M211 439v12h3v-12z M218 435h5v6h-5z M219 436v4h3v-4z M274 515h5v42h-5z M275 516v40h3v-40z M282 494h5v22h-5z M283 495v20h3v-20z M322 514h5v7h-5z M323 515v5h3v-5z M330 467h5v48h-5z M331 468v46h3v-46z M346 471h5v22h-5z M347 472v20h3v-20z M354 469h5v3h-5z M355 470v1h3v-1z M370 410h5v52h-5z M371 411v50h3v-50z M378 376h5v35h-5z M379 377v33h3v-33z M394 366h5v13h-5z M395 367v11h3v-11z M402 344h5v24h-5z M403 345v22h3v-22z M410 325h5v9h-5z M411 326v7h3v-7z M418 319h5v7h-5z M419 320v5h3v-5z M466 355h5v48h-5z M467 356v46h3v-46z M514 405h5v57h-5z M515 406v55h3v-55z M522 396h5v10h-5z M523 397v8h3v-8z M538 433h5v5h-5z M539 434v3h3v-3z M570 446h5v29h-5z M571 447v27h3v-27z M578 418h5v29h-5z M579 419v27h3v-27z M594 414h5v4h-5z M595 415v2h3v-2z M610 407h5v8h-5z M611 408v6h3v-6z M618 390h5v18h-5z M619 391v16h3v-16z M626 364h5v27h-5z M627 365v25h3v-25z M642 359h5v8h-5z M643 360v6h3v-6z M666 380h5v7h-5z M667 381v5h3v-5z M674 372h5v9h-5z M675 373v7h3v-7z M690 381h5v3h-5z M691 382v1h3v-1z M706 346h5v34h-5z M707 347v32h3v-32z M714 320h5v26h-5z M715 321v24h3v-24z M738 299h5v23h-5z M739 300v21h3v-21z M754 263h5v36h-5z M755 264v34h3v-34z M762 250h5v14h-5z M763 251v12h3v-12z M770 230h5v21h-5z M771 231v19h3v-19z M778 180h5v51h-5z M779 181v49h3v-49z M810 192h5v3h-5z M811 193v1h3v-1z M818 177h5v16h-5z M819 178v14h3v-14z M826 172h5v6h-5z M827 173v4h3v-4z M842 204h5v3h-5z M843 205v1h3v-1z M850 195h5v9h-5z M851 196v7h3v-7z M874 197h5v9h-5z M875 198v7h3v-7z M882 189h5v9h-5z M883 190v7h3v-7z M890 184h5v4h-5z M891 185v2h3v-2z M906 130h5v55h-5z M907 131v53h3v-53z M922 143h5v40h-5z M923 144v38h3v-38z M954 168h5v29h-5z M955 169v27h3v-27z M962 143h5v26h-5z M963 144v24h3v-24z M978 97h5v54h-5z M979 98v52h3v-52z M986 93h5v4h-5z M987 94v2h3v-2z M994 90h5v4h-5z M995 91v2h3v-2z M1002 76h5v14h-5z M1003 77v12h3v-12z M1026 117h5v10h-5z M1027 118v8h3v-8z M1058 223h5v13h-5z M1059 224v11h3v-11z M1090 278h5v16h-5z M1091 279v14h3v-14z M1098 265h5v14h-5z M1099 266v12h3v-12z M1106 237h5v29h-5z M1107 238v27h3v-27z M1114 232h5v6h-5z M1115 233v4h3v-4z M1162 312h5v16h-5z M1163 313v14h3v-14z M1178 308h5v4h-5z M1179 309v2h3v-2z M1186 269h5v41h-5z M1187 270v39h3v-39z M1202 253h5v20h-5z M1203 254v18h3v-18z M1218 247h5v18h-5z M1219 248v16h3v-16z M1234 225h5v24h-5z M1235 226v22h3v-22z M1250 253h5v13h-5z M1251 254v11h3v-11z M1258 245h5v9h-5z M1259 246v7h3v-7z M1266 209h5v37h-5z M1267 210v35h3v-35z M1282 199h5v14h-5z M1283 200v12h3v-12z M1298 218h5v29h-5z M1299 219v27h3v-27z M1314 248h5v11h-5z M1315 249v9h3v-9z M1322 250h5v3h-5z M1323 251v1h3v-1z M1330 242h5v9h-5z M1331 243v7h3v-7z M1338 239h5v4h-5z M1339 240v2h3v-2z M1346 175h5v65h-5z M1347 176v63h3v-63z M1370 203h5v5h-5z M1371 204v3h3v-3z M1386 211h5v7h-5z M1387 212v5h3v-5z M1410 238h5v11h-5z M1411 239v9h3v-9z M1434 179h5v73h-5z M1435 180v71h3v-71z M1450 172h5v65h-5z M1451 173v63h3v-63z M1458 164h5v9h-5z M1459 165v7h3v-7z M1466 157h5v8h-5z M1467 158v6h3v-6z M1482 127h5v35h-5z M1483 128v33h3v-33z"/>
<path fill="#fff" d="M3 466h3v37h-3z M11 446h3v19h-3z M19 423h3v22h-3z M35 399h3v21h-3z M43 361h3v37h-3z M99 471h3v6h-3z M107 460h3v10h-3z M131 435h3v19h-3z M139 430h3v4h-3z M147 417h3v12h-3z M155 376h3v40h-3z M203 452h3v17h-3z M211 439h3v12h-3z M219 436h3v4h-3z M275 516h3v40h-3z M283 495h3v20h-3z M323 515h3v5h-3z M331 468h3v46h-3z M347 472h3v20h-3z M355 470h3v1h-3z M371 411h3v50h-3z M379 377h3v33h-3z M395 367h3v11h-3z M403 345h3v22h-3z M411 326h3v7h-3z M419 320h3v5h-3z M467 356h3v46h-3z M515 406h3v55h-3z M523 397h3v8h-3z M539 434h3v3h-3z M571 447h3v27h-3z M579 419h3v27h-3z M595 415h3v2h-3z M611 408h3v6h-3z M619 391h3v16h-3z M627 365h3v25h-3z M643 360h3v6h-3z M667 381h3v5h-3z M675 373h3v7h-3z M691 382h3v1h-3z M707 347h3v32h-3z M715 321h3v24h-3z M739 300h3v21h-3z M755 264h3v34h-3z M763 251h3v12h-3z M771 231h3v19h-3z M779 181h3v49h-3z M811 193h3v1h-3z M819 178h3v14h-3z M827 173h3v4h-3z M843 205h3v1h-3z M851 196h3v7h-3z M875 198h3v7h-3z M883 190h3v7h-3z M891 185h3v2h-3z M907 131h3v53h-3z M923 144h3v38h-3z M955 169h3v27h-3z M963 144h3v24h-3z M979 98h3v52h-3z M987 94h3v2h-3z M995 91h3v2h-3z M1003 77h3v12h-3z M1027 118h3v8h-3z M1059 224h3v11h-3z M1091 279h3v14h-3z M1099 266h3v12h-3z M1107 238h3v27h-3z M1115 233h3v4h-3z M1163 313h3v14h-3z M1179 309h3v2h-3z M1187 270h3v39h-3z M1203 254h3v18h-3z M1219 248h3v16h-3z M1235 226h3v22h-3z M1251 254h3v11h-3z M1259 246h3v7h-3z M1267 210h3v35h-3z M1283 200h3v12h-3z M1299 219h3v27h-3z M1315 249h3v9h-3z M1323 251h3v1h-3z M1331 243h3v7h-3z M1339 240h3v2h-3z M1347 176h3v63h-3z M1371 204h3v3h-3z M1387 212h3v5h-3z M1411 239h3v9h-3z M1435 180h3v71h-3z M1451 173h3v63h-3z M1459 165h3v7h-3z M1467 158h3v6h-3z M1483 128h3v33h-3z"/>
<path fill="#000" d="M26 415h5v6h-5z M50 360h5v39h-5z M58 398h5v12h-5z M74 408h5v4h-5z M82 410h5v18h-5z M90 427h5v52h-5z M162 375h5v36h-5z M178 421h5v5h-5z M194 425h5v45h-5z M226 435h5v33h-5z M234 466h5v31h-5z M242 496h5v6h-5z M258 502h5v44h-5z M266 555h5v3h-5z M290 494h5v8h-5z M298 502h5v5h-5z M306 506h5v19h-5z M338 466h5v26h-5z M362 460h5v3h-5z M386 376h5v3h-5z M426 319h5v11h-5z M442 328h5v51h-5z M450 378h5v31h-5z M474 354h5v22h-5z M482 375h5v13h-5z M490 387h5v47h-5z M498 432h5v27h-5z M530 396h5v42h-5z M546 433h5v31h-5z M562 463h5v12h-5z M602 414h5v2h-5z M634 364h5v3h-5z M650 355h5v5h-5z M658 359h5v28h-5z M682 372h5v13h-5z M698 379h5v2h-5z M722 320h5v3h-5z M786 181h5v4h-5z M802 186h5v9h-5z M834 172h5v33h-5z M858 195h5v10h-5z M866 204h5v3h-5z M914 130h5v53h-5z M930 142h5v47h-5z M938 185h5v5h-5z M946 189h5v9h-5z M970 142h5v8h-5z M1010 76h5v20h-5z M1018 96h5v31h-5z M1034 129h5v4h-5z M1042 132h5v33h-5z M1050 164h5v72h-5z M1066 224h5v70h-5z M1074 292h5v8h-5z M1122 231h5v19h-5z M1138 247h5v43h-5z M1146 289h5v29h-5z M1154 317h5v11h-5z M1170 312h5v10h-5z M1194 269h5v4h-5z M1210 253h5v12h-5z M1226 246h5v3h-5z M1242 225h5v41h-5z M1274 209h5v3h-5z M1290 199h5v48h-5z M1306 218h5v41h-5z M1354 175h5v20h-5z M1362 194h5v17h-5z M1378 204h5v14h-5z M1394 211h5v16h-5z M1402 227h5v22h-5z M1418 247h5v4h-5z M1442 178h5v58h-5z M1474 157h5v5h-5z M1490 127h5v16h-5z M66 409h5v1h-5z M114 459h5v1h-5z M122 454h5v1h-5z M170 421h5v1h-5z M186 425h5v1h-5z M250 501h5v1h-5z M314 520h5v1h-5z M434 329h5v1h-5z M458 401h5v1h-5z M506 461h5v1h-5z M554 463h5v1h-5z M586 417h5v1h-5z M730 321h5v1h-5z M746 298h5v1h-5z M794 186h5v1h-5z M898 184h5v1h-5z M1082 293h5v1h-5z M1130 246h5v1h-5z M1426 250h5v1h-5z"/>
</g>
<g stroke="#ff0000" fill="none" stroke-linecap="butt">
<path d="M1428.9 257 L1491.9 106" stroke-width="3.7"/>
<path d="M1492.6 105 L1502.2 133" stroke-width="3.2"/>
<path d="M1483.6 113.6 L1492.4 104.8" stroke-width="3.4"/>
<path d="M1494.6 131.4 L1502.4 134.6 L1503.5 128.4" stroke-width="2.9" stroke-linejoin="miter"/>
</g>
<path d="M1492.7 103.7L1488 112.5L1496 113z" fill="#ff0000"/>
<rect x="1398" y="136" width="135" height="6" fill="#00ff00" shape-rendering="crispEdges"/>
<rect x="933.5" y="36.5" width="61" height="18" fill="#fff" stroke="#ff0000" stroke-width="1" shape-rendering="crispEdges"/>
<rect x="995" y="45" width="9" height="1" fill="#ff0000" shape-rendering="crispEdges"/>
<text x="936.4" y="51.8" font-size="16.2" fill="#ff0000" textLength="56.6" lengthAdjust="spacingAndGlyphs" stroke="#ff0000" stroke-width="0.25">1.34837</text>
<rect x="357.5" y="282.5" width="61" height="18" fill="#fff" stroke="#ff0000" stroke-width="1" shape-rendering="crispEdges"/>
<rect x="419" y="291" width="10" height="1" fill="#ff0000" shape-rendering="crispEdges"/>
<text x="360.4" y="297.8" font-size="16.2" fill="#ff0000" textLength="56.6" lengthAdjust="spacingAndGlyphs" stroke="#ff0000" stroke-width="0.25">1.28107</text>
<rect x="1077.5" y="333.5" width="61" height="18" fill="#fff" stroke="#ff0000" stroke-width="1" shape-rendering="crispEdges"/>
<rect x="1139" y="342" width="10" height="1" fill="#ff0000" shape-rendering="crispEdges"/>
<text x="1080.4" y="348.8" font-size="16.2" fill="#ff0000" textLength="56.6" lengthAdjust="spacingAndGlyphs" stroke="#ff0000" stroke-width="0.25">1.26724</text>
<rect x="1277.5" y="149.5" width="61" height="18" fill="#fff" stroke="#ff0000" stroke-width="1" shape-rendering="crispEdges"/>
<rect x="1339" y="158" width="9" height="1" fill="#ff0000" shape-rendering="crispEdges"/>
<text x="1280.4" y="164.8" font-size="16.2" fill="#ff0000" textLength="56.6" lengthAdjust="spacingAndGlyphs" stroke="#ff0000" stroke-width="0.25">1.31747</text>
<rect x="1135.5" y="128.5" width="72" height="24" fill="#fff" stroke="#ff0000" stroke-width="1" shape-rendering="crispEdges"/>
<rect x="1125" y="140" width="10" height="1" fill="#ff0000" shape-rendering="crispEdges"/>
<text x="1137.8" y="149.8" font-size="22" fill="#ff0000" textLength="68.9" lengthAdjust="spacingAndGlyphs" stroke="#ff0000" stroke-width="0.25">1.32240</text>
<rect x="1541.5" y="117.5" width="110" height="24" fill="#fff" stroke="#404040" stroke-width="1" shape-rendering="crispEdges"/>
<text x="1541.9" y="136.2" font-size="20" fill="#00ff00" textLength="106.8" lengthAdjust="spacing" style="font-family:'Liberation Serif','Noto Serif CJK SC',serif">多空转折点</text>
<path d="M1594 117a2 2 0 0 1 4 0" fill="none" stroke="#00ff00" stroke-width="0.8"/>
<g shape-rendering="crispEdges"><rect x="1542" y="140" width="109" height="1" fill="#1fe01f"/><rect x="1541" y="140" width="1" height="1" fill="#ff00ff"/><rect x="1651" y="140" width="1" height="1" fill="#ff00ff"/></g>
</g>
<g shape-rendering="crispEdges" fill="#000">
<rect x="1679" y="41" width="2" height="1"/>
<rect x="1679" y="74" width="2" height="1"/>
<rect x="1679" y="107" width="2" height="1"/>
<rect x="1679" y="140" width="2" height="1"/>
<rect x="1679" y="173" width="2" height="1"/>
<rect x="1679" y="206" width="2" height="1"/>
<rect x="1679" y="239" width="2" height="1"/>
<rect x="1679" y="272" width="2" height="1"/>
<rect x="1679" y="305" width="2" height="1"/>
<rect x="1679" y="338" width="2" height="1"/>
<rect x="1679" y="371" width="2" height="1"/>
<rect x="1679" y="404" width="2" height="1"/>
<rect x="1679" y="437" width="2" height="1"/>
<rect x="1679" y="470" width="2" height="1"/>
<rect x="1679" y="503" width="2" height="1"/>
<rect x="1679" y="536" width="2" height="1"/>
<rect x="1679" y="569" width="2" height="1"/>
</g>
<text x="1684" y="45" font-size="10.5" fill="#000" textLength="33" lengthAdjust="spacingAndGlyphs" >1.34955</text>
<text x="1684" y="78" font-size="10.5" fill="#000" textLength="33" lengthAdjust="spacingAndGlyphs" >1.34055</text>
<text x="1684" y="111" font-size="10.5" fill="#000" textLength="33" lengthAdjust="spacingAndGlyphs" >1.33155</text>
<text x="1684" y="144" font-size="10.5" fill="#000" textLength="33" lengthAdjust="spacingAndGlyphs" >1.32255</text>
<text x="1684" y="177" font-size="10.5" fill="#000" textLength="33" lengthAdjust="spacingAndGlyphs" >1.31330</text>
<text x="1684" y="210" font-size="10.5" fill="#000" textLength="33" lengthAdjust="spacingAndGlyphs" >1.30430</text>
<text x="1684" y="243" font-size="10.5" fill="#000" textLength="33" lengthAdjust="spacingAndGlyphs" >1.29530</text>
<text x="1684" y="276" font-size="10.5" fill="#000" textLength="33" lengthAdjust="spacingAndGlyphs" >1.28630</text>
<text x="1684" y="309" font-size="10.5" fill="#000" textLength="33" lengthAdjust="spacingAndGlyphs" >1.27730</text>
<text x="1684" y="342" font-size="10.5" fill="#000" textLength="33" lengthAdjust="spacingAndGlyphs" >1.26830</text>
<text x="1684" y="375" font-size="10.5" fill="#000" textLength="33" lengthAdjust="spacingAndGlyphs" >1.25930</text>
<text x="1684" y="408" font-size="10.5" fill="#000" textLength="33" lengthAdjust="spacingAndGlyphs" >1.25005</text>
<text x="1684" y="441" font-size="10.5" fill="#000" textLength="33" lengthAdjust="spacingAndGlyphs" >1.24105</text>
<text x="1684" y="474" font-size="10.5" fill="#000" textLength="33" lengthAdjust="spacingAndGlyphs" >1.23205</text>
<text x="1684" y="507" font-size="10.5" fill="#000" textLength="33" lengthAdjust="spacingAndGlyphs" >1.22305</text>
<text x="1684" y="540" font-size="10.5" fill="#000" textLength="33" lengthAdjust="spacingAndGlyphs" >1.21405</text>
<text x="1684" y="573" font-size="10.5" fill="#000" textLength="33" lengthAdjust="spacingAndGlyphs" >1.20505</text>
<rect x="1680" y="79" width="41" height="11" fill="#ff0000" shape-rendering="crispEdges"/>
<text x="1684" y="88" font-size="10.5" fill="#fff" textLength="33" lengthAdjust="spacingAndGlyphs" >1.33743</text>
<rect x="1680" y="100" width="41" height="11" fill="#ff4500" shape-rendering="crispEdges"/>
<text x="1684" y="109" font-size="10.5" fill="#fff" textLength="33" lengthAdjust="spacingAndGlyphs" >1.33169</text>
<rect x="1680" y="137" width="41" height="11" fill="#000000" shape-rendering="crispEdges"/>
<text x="1684" y="146" font-size="10.5" fill="#fff" textLength="33" lengthAdjust="spacingAndGlyphs" >1.32191</text>
<rect x="1680" y="134" width="41" height="11" fill="#32cd32" shape-rendering="crispEdges"/>
<text x="1684" y="143" font-size="10.5" fill="#fff" textLength="33" lengthAdjust="spacingAndGlyphs" >1.32240</text>
<rect x="1680" y="155" width="41" height="11" fill="#0000ff" shape-rendering="crispEdges"/>
<text x="1684" y="164" font-size="10.5" fill="#fff" textLength="33" lengthAdjust="spacingAndGlyphs" >1.31665</text>
<rect x="1680" y="175" width="41" height="11" fill="#0000ff" shape-rendering="crispEdges"/>
<text x="1684" y="184" font-size="10.5" fill="#fff" textLength="33" lengthAdjust="spacingAndGlyphs" >1.31119</text>
<text x="3.3" y="31.2" font-size="10.5" fill="#000" textLength="213.5" lengthAdjust="spacingAndGlyphs" >GBPUSD-,Daily&#160;&#160;1.32595 1.33114 1.31901 1.32191</text>
<g shape-rendering="crispEdges">
<rect x="0" y="38" width="212" height="66" fill="#fff"/>
<rect x="0" y="39" width="43" height="24" fill="url(#gb1)"/>
<rect x="158" y="39" width="52" height="24" fill="url(#gb1)"/>
<rect x="0" y="63" width="100" height="40" fill="url(#gb2)"/>
<rect x="102" y="63" width="108" height="40" fill="url(#gb2)"/>
<rect x="43" y="62" width="57" height="2" fill="#fff"/>
<rect x="102" y="62" width="56" height="2" fill="#fff"/>
<rect x="0" y="62" width="39" height="1" fill="#7d7df0"/>
<rect x="162" y="62" width="44" height="1" fill="#7d7df0"/>
<rect x="44.5" y="39.5" width="111" height="21" fill="#fff" stroke="#b8b8b8"/>
<rect x="46" y="41" width="20" height="19" fill="url(#gbtn)"/>
<rect x="135" y="41" width="20" height="19" fill="url(#gbtn)"/>
<rect x="66" y="40" width="1" height="21" fill="#c8c8c8"/><rect x="134" y="40" width="1" height="21" fill="#c8c8c8"/>
</g>
<path d="M53 48h6l-3 3.5z" fill="#5b6ec6"/><path d="M141.5 51.5h6l-3 -3.5z" fill="#5b6ec6"/>
<text x="130.5" y="54.5" font-size="12" fill="#000" text-anchor="end" >1.00</text>
<text x="3.7" y="54.6" font-size="11.6" fill="#fff" textLength="25" lengthAdjust="spacingAndGlyphs" >SELL</text>
<text x="171.7" y="54.6" font-size="11.6" fill="#fff" textLength="22.7" lengthAdjust="spacingAndGlyphs" >BUY</text>
<text x="11.7" y="93.8" font-size="11.2" fill="#fff" font-weight="bold" textLength="23.3" lengthAdjust="spacingAndGlyphs" >1.32</text>
<text x="39" y="93.8" font-size="32.5" fill="#fff" textLength="34" lengthAdjust="spacingAndGlyphs" >19</text>
<text x="78.6" y="77.8" font-size="11.2" fill="#fff" font-weight="bold" >1</text>
<text x="121.6" y="93.8" font-size="11.2" fill="#fff" font-weight="bold" textLength="23.3" lengthAdjust="spacingAndGlyphs" >1.32</text>
<text x="150" y="93.8" font-size="32.5" fill="#fff" textLength="34" lengthAdjust="spacingAndGlyphs" >22</text>
<text x="189.3" y="77.8" font-size="11.2" fill="#fff" font-weight="bold" >0</text>
<g clip-path="url(#cmacd)">
<path fill="#c0c0c0" shape-rendering="crispEdges" d="M4 662h1v27h-1z M12 662h1v20h-1z M20 662h1v11h-1z M28 662h1v4h-1z M36 659h1v4h-1z M44 648h1v15h-1z M52 644h1v19h-1z M60 643h1v20h-1z M68 642h1v21h-1z M76 642h1v21h-1z M84 643h1v20h-1z M92 651h1v12h-1z M100 656h1v7h-1z M108 659h1v4h-1z M116 661h1v2h-1z M132 661h1v2h-1z M140 659h1v4h-1z M148 656h1v7h-1z M156 650h1v13h-1z M164 649h1v14h-1z M172 650h1v13h-1z M180 651h1v12h-1z M188 652h1v11h-1z M196 657h1v6h-1z M204 660h1v3h-1z M212 661h1v2h-1z M220 661h1v2h-1z M236 662h1v8h-1z M244 662h1v13h-1z M252 662h1v17h-1z M260 662h1v25h-1z M268 662h1v32h-1z M276 662h1v33h-1z M284 662h1v31h-1z M292 662h1v29h-1z M300 662h1v28h-1z M308 662h1v30h-1z M316 662h1v29h-1z M324 662h1v29h-1z M332 662h1v22h-1z M340 662h1v20h-1z M348 662h1v15h-1z M356 662h1v11h-1z M364 662h1v7h-1z M372 661h1v2h-1z M380 650h1v13h-1z M388 642h1v21h-1z M396 635h1v28h-1z M404 626h1v37h-1z M412 618h1v45h-1z M420 612h1v51h-1z M428 609h1v54h-1z M436 606h1v57h-1z M444 611h1v52h-1z M452 619h1v44h-1z M460 624h1v39h-1z M468 624h1v39h-1z M476 627h1v36h-1z M484 630h1v33h-1z M492 639h1v24h-1z M500 648h1v15h-1z M508 657h1v6h-1z M516 657h1v6h-1z M524 656h1v7h-1z M532 660h1v3h-1z M548 662h1v5h-1z M556 662h1v9h-1z M564 662h1v14h-1z M572 662h1v13h-1z M580 662h1v11h-1z M588 662h1v7h-1z M596 662h1v5h-1z M604 662h1v4h-1z M620 660h1v3h-1z M628 654h1v9h-1z M636 650h1v13h-1z M644 646h1v17h-1z M652 643h1v20h-1z M660 644h1v19h-1z M668 644h1v19h-1z M676 644h1v19h-1z M684 646h1v17h-1z M692 646h1v17h-1z M700 646h1v17h-1z M708 644h1v19h-1z M716 638h1v25h-1z M724 635h1v28h-1z M732 632h1v31h-1z M740 628h1v35h-1z M748 625h1v38h-1z M756 619h1v44h-1z M764 614h1v49h-1z M772 608h1v55h-1z M780 598h1v65h-1z M788 592h1v71h-1z M796 588h1v75h-1z M804 586h1v77h-1z M812 586h1v77h-1z M820 585h1v78h-1z M828 584h1v79h-1z M836 588h1v75h-1z M844 592h1v71h-1z M852 595h1v68h-1z M860 599h1v64h-1z M868 603h1v60h-1z M876 606h1v57h-1z M884 608h1v55h-1z M892 610h1v53h-1z M900 612h1v51h-1z M908 608h1v55h-1z M916 611h1v52h-1z M924 609h1v54h-1z M932 615h1v48h-1z M940 619h1v44h-1z M948 624h1v39h-1z M956 625h1v38h-1z M964 623h1v40h-1z M972 623h1v40h-1z M980 618h1v45h-1z M988 613h1v50h-1z M996 610h1v53h-1z M1004 607h1v56h-1z M1012 607h1v56h-1z M1020 611h1v52h-1z M1028 614h1v49h-1z M1036 619h1v44h-1z M1044 626h1v37h-1z M1052 641h1v22h-1z M1060 651h1v12h-1z M1068 662h1v4h-1z M1076 662h1v17h-1z M1084 662h1v27h-1z M1092 662h1v32h-1z M1100 662h1v34h-1z M1108 662h1v33h-1z M1116 662h1v30h-1z M1124 662h1v30h-1z M1132 662h1v30h-1z M1140 662h1v33h-1z M1148 662h1v39h-1z M1156 662h1v44h-1z M1164 662h1v46h-1z M1172 662h1v48h-1z M1180 662h1v48h-1z M1188 662h1v41h-1z M1196 662h1v38h-1z M1204 662h1v32h-1z M1212 662h1v28h-1z M1220 662h1v23h-1z M1228 662h1v19h-1z M1236 662h1v13h-1z M1244 662h1v12h-1z M1252 662h1v11h-1z M1260 662h1v8h-1z M1268 662h1v2h-1z M1276 660h1v3h-1z M1284 656h1v7h-1z M1292 657h1v6h-1z M1300 655h1v8h-1z M1308 658h1v5h-1z M1316 660h1v3h-1z M1324 661h1v2h-1z M1332 661h1v2h-1z M1340 660h1v3h-1z M1348 654h1v9h-1z M1356 650h1v13h-1z M1364 649h1v14h-1z M1372 648h1v15h-1z M1380 649h1v14h-1z M1388 649h1v14h-1z M1396 651h1v12h-1z M1404 655h1v8h-1z M1412 657h1v6h-1z M1420 660h1v3h-1z M1436 657h1v6h-1z M1444 658h1v5h-1z M1452 653h1v10h-1z M1460 647h1v16h-1z M1468 643h1v20h-1z M1476 640h1v23h-1z M1484 634h1v29h-1z M1492 631h1v32h-1z"/>
<path fill="#ff0000" shape-rendering="crispEdges" d="M850 587h3v1h-3zM856 587h1v1h-1zM844 588h3v1h-3zM857 588h2v1h-2zM862 588h1v1h-1zM838 589h3v1h-3zM863 589h2v1h-2zM833 590h2v1h-2zM868 590h3v1h-3zM832 591h1v1h-1zM874 591h1v1h-1zM828 592h1v1h-1zM875 592h2v1h-2zM826 593h2v1h-2zM880 593h1v1h-1zM881 594h2v1h-2zM822 595h1v1h-1zM820 596h2v1h-2zM886 596h3v1h-3zM892 598h2v1h-2zM815 599h2v1h-2zM894 599h1v1h-1zM814 600h1v1h-1zM898 600h1v1h-1zM899 601h2v1h-2zM810 602h1v1h-1zM904 602h3v1h-3zM809 603h1v1h-1zM910 603h1v1h-1zM808 604h1v1h-1zM911 604h2v1h-2zM916 605h3v1h-3zM804 606h1v1h-1zM922 606h1v1h-1zM802 607h2v1h-2zM923 607h2v1h-2zM928 608h3v1h-3zM798 609h1v1h-1zM934 609h3v1h-3zM796 610h2v1h-2zM940 610h3v1h-3zM946 611h1v1h-1zM947 612h2v1h-2zM952 612h1v1h-1zM792 613h1v1h-1zM953 613h2v1h-2zM958 613h1v1h-1zM1025 613h2v1h-2zM1030 613h3v1h-3zM1036 613h3v1h-3zM1042 613h3v1h-3zM791 614h1v1h-1zM959 614h2v1h-2zM1018 614h3v1h-3zM1024 614h1v1h-1zM1048 614h3v1h-3zM790 615h1v1h-1zM964 615h3v1h-3zM1012 615h3v1h-3zM466 616h3v1h-3zM472 616h3v1h-3zM478 616h3v1h-3zM970 616h3v1h-3zM1007 616h2v1h-2zM1054 616h1v1h-1zM460 617h3v1h-3zM484 617h2v1h-2zM786 617h1v1h-1zM976 617h3v1h-3zM1001 617h2v1h-2zM1006 617h1v1h-1zM1055 617h2v1h-2zM455 618h2v1h-2zM486 618h1v1h-1zM785 618h1v1h-1zM982 618h3v1h-3zM988 618h3v1h-3zM994 618h3v1h-3zM1000 618h1v1h-1zM454 619h1v1h-1zM490 619h1v1h-1zM784 619h1v1h-1zM449 620h2v1h-2zM491 620h2v1h-2zM1060 620h1v1h-1zM448 621h1v1h-1zM780 621h1v1h-1zM1061 621h2v1h-2zM444 622h1v1h-1zM496 622h2v1h-2zM778 622h2v1h-2zM442 623h2v1h-2zM498 623h1v1h-1zM1066 624h1v1h-1zM502 625h1v1h-1zM773 625h2v1h-2zM1067 625h1v1h-1zM437 626h2v1h-2zM503 626h1v1h-1zM772 626h1v1h-1zM1068 626h1v1h-1zM436 627h1v1h-1zM504 627h1v1h-1zM768 628h1v1h-1zM766 629h2v1h-2zM508 630h2v1h-2zM1072 630h1v1h-1zM432 631h1v1h-1zM510 631h1v1h-1zM761 631h2v1h-2zM1073 631h1v1h-1zM431 632h1v1h-1zM760 632h1v1h-1zM1074 632h1v1h-1zM430 633h1v1h-1zM514 633h2v1h-2zM756 633h1v1h-1zM516 634h1v1h-1zM754 634h2v1h-2zM520 636h1v1h-1zM750 636h1v1h-1zM1078 636h1v1h-1zM426 637h1v1h-1zM521 637h1v1h-1zM748 637h2v1h-2zM1079 637h1v1h-1zM425 638h1v1h-1zM522 638h1v1h-1zM743 638h2v1h-2zM1080 638h1v1h-1zM424 639h1v1h-1zM742 639h1v1h-1zM526 640h2v1h-2zM736 640h3v1h-3zM528 641h1v1h-1zM730 641h3v1h-3zM420 642h1v1h-1zM724 642h3v1h-3zM1084 642h1v1h-1zM419 643h1v1h-1zM532 643h2v1h-2zM713 643h2v1h-2zM718 643h3v1h-3zM1085 643h1v1h-1zM418 644h1v1h-1zM534 644h1v1h-1zM700 644h3v1h-3zM706 644h3v1h-3zM712 644h1v1h-1zM1086 644h1v1h-1zM538 645h1v1h-1zM694 645h3v1h-3zM539 646h2v1h-2zM688 646h3v1h-3zM1492 646h1v1h-1zM100 647h3v1h-3zM106 647h3v1h-3zM112 647h1v1h-1zM414 647h1v1h-1zM683 647h2v1h-2zM94 648h3v1h-3zM113 648h2v1h-2zM118 648h1v1h-1zM413 648h1v1h-1zM682 648h1v1h-1zM1486 648h3v1h-3zM89 649h2v1h-2zM119 649h2v1h-2zM412 649h1v1h-1zM544 649h1v1h-1zM676 649h3v1h-3zM1090 649h1v1h-1zM88 650h1v1h-1zM124 650h3v1h-3zM545 650h2v1h-2zM671 650h2v1h-2zM1091 650h1v1h-1zM1409 650h2v1h-2zM1414 650h3v1h-3zM1481 650h2v1h-2zM84 651h1v1h-1zM130 651h1v1h-1zM670 651h1v1h-1zM1092 651h1v1h-1zM1402 651h3v1h-3zM1408 651h1v1h-1zM1420 651h3v1h-3zM1480 651h1v1h-1zM82 652h2v1h-2zM131 652h2v1h-2zM665 652h2v1h-2zM1396 652h3v1h-3zM1426 652h1v1h-1zM1474 652h3v1h-3zM136 653h3v1h-3zM185 653h2v1h-2zM190 653h3v1h-3zM196 653h3v1h-3zM202 653h3v1h-3zM208 653h3v1h-3zM214 653h3v1h-3zM220 653h3v1h-3zM407 653h2v1h-2zM550 653h1v1h-1zM664 653h1v1h-1zM1379 653h2v1h-2zM1384 653h3v1h-3zM1390 653h3v1h-3zM1427 653h2v1h-2zM1432 653h3v1h-3zM1438 653h3v1h-3zM1468 653h3v1h-3zM78 654h1v1h-1zM142 654h3v1h-3zM178 654h3v1h-3zM184 654h1v1h-1zM226 654h1v1h-1zM406 654h1v1h-1zM551 654h2v1h-2zM659 654h2v1h-2zM1378 654h1v1h-1zM1444 654h3v1h-3zM1463 654h2v1h-2zM76 655h2v1h-2zM148 655h3v1h-3zM172 655h3v1h-3zM227 655h2v1h-2zM658 655h1v1h-1zM1096 655h1v1h-1zM1372 655h3v1h-3zM1450 655h3v1h-3zM1456 655h3v1h-3zM1462 655h1v1h-1zM154 656h3v1h-3zM160 656h3v1h-3zM166 656h3v1h-3zM232 656h3v1h-3zM654 656h1v1h-1zM1097 656h1v1h-1zM1361 656h2v1h-2zM1366 656h3v1h-3zM238 657h1v1h-1zM556 657h2v1h-2zM652 657h2v1h-2zM1098 657h1v1h-1zM1348 657h3v1h-3zM1354 657h3v1h-3zM1360 657h1v1h-1zM71 658h2v1h-2zM239 658h2v1h-2zM402 658h1v1h-1zM558 658h1v1h-1zM1330 658h3v1h-3zM1336 658h3v1h-3zM1342 658h3v1h-3zM70 659h1v1h-1zM244 659h2v1h-2zM401 659h1v1h-1zM562 659h1v1h-1zM646 659h3v1h-3zM1324 659h3v1h-3zM246 660h1v1h-1zM400 660h1v1h-1zM563 660h2v1h-2zM1319 660h2v1h-2zM568 661h1v1h-1zM641 661h2v1h-2zM1102 661h1v1h-1zM1313 661h2v1h-2zM1318 661h1v1h-1zM65 662h2v1h-2zM250 662h2v1h-2zM569 662h2v1h-2zM640 662h1v1h-1zM1103 662h1v1h-1zM1307 662h2v1h-2zM1312 662h1v1h-1zM64 663h1v1h-1zM252 663h1v1h-1zM396 663h1v1h-1zM636 663h1v1h-1zM1104 663h1v2h-1zM1306 663h1v1h-1zM395 664h1v1h-1zM574 664h3v1h-3zM634 664h2v1h-2zM1300 664h3v1h-3zM256 665h2v1h-2zM394 665h1v1h-1zM1295 665h2v1h-2zM60 666h1v1h-1zM258 666h1v1h-1zM580 666h3v1h-3zM630 666h1v1h-1zM1294 666h1v1h-1zM58 667h2v1h-2zM586 667h1v1h-1zM628 667h2v1h-2zM1290 667h1v1h-1zM262 668h2v1h-2zM390 668h1v1h-1zM587 668h2v1h-2zM592 668h1v1h-1zM622 668h3v1h-3zM1108 668h1v1h-1zM1288 668h2v1h-2zM264 669h1v1h-1zM389 669h1v1h-1zM593 669h2v1h-2zM598 669h3v1h-3zM616 669h3v1h-3zM1109 669h1v1h-1zM53 670h2v1h-2zM388 670h1v1h-1zM604 670h3v1h-3zM610 670h3v1h-3zM1110 670h1v1h-1zM1283 670h2v1h-2zM52 671h1v1h-1zM268 671h2v1h-2zM1282 671h1v1h-1zM270 672h1v1h-1zM1278 672h1v1h-1zM383 673h2v1h-2zM1276 673h2v1h-2zM48 674h1v1h-1zM274 674h2v1h-2zM382 674h1v1h-1zM1114 674h1v1h-1zM47 675h1v1h-1zM276 675h1v1h-1zM1115 675h1v1h-1zM46 676h1v1h-1zM378 676h1v1h-1zM1116 676h1v1h-1zM1271 676h2v1h-2zM280 677h2v1h-2zM376 677h2v1h-2zM1270 677h1v1h-1zM282 678h1v1h-1zM41 679h2v1h-2zM372 679h1v1h-1zM1120 679h1v1h-1zM1266 679h1v1h-1zM40 680h1v1h-1zM286 680h2v1h-2zM370 680h2v1h-2zM1121 680h1v1h-1zM1264 680h2v1h-2zM288 681h1v1h-1zM1122 681h1v1h-1zM366 682h1v1h-1zM1260 682h1v1h-1zM36 683h1v1h-1zM292 683h2v1h-2zM364 683h2v1h-2zM1258 683h2v1h-2zM35 684h1v1h-1zM294 684h1v1h-1zM359 684h2v1h-2zM1126 684h2v1h-2zM34 685h1v1h-1zM298 685h1v1h-1zM358 685h1v1h-1zM1128 685h1v1h-1zM1254 685h1v1h-1zM299 686h2v1h-2zM352 686h3v1h-3zM1252 686h2v1h-2zM304 687h3v1h-3zM347 687h2v1h-2zM1132 687h2v1h-2zM29 688h2v1h-2zM310 688h1v1h-1zM346 688h1v1h-1zM1134 688h1v1h-1zM1246 688h3v1h-3zM28 689h1v1h-1zM311 689h2v1h-2zM340 689h3v1h-3zM316 690h3v1h-3zM335 690h2v1h-2zM1138 690h2v1h-2zM1242 690h1v1h-1zM322 691h3v1h-3zM328 691h3v1h-3zM334 691h1v1h-1zM1140 691h1v1h-1zM1240 691h2v1h-2zM1144 692h1v1h-1zM23 693h2v1h-2zM1145 693h2v1h-2zM1236 693h1v1h-1zM22 694h1v1h-1zM1150 694h1v1h-1zM1234 694h2v1h-2zM1151 695h2v1h-2zM1156 696h3v1h-3zM1230 696h1v1h-1zM1162 697h1v1h-1zM1228 697h2v1h-2zM18 698h1v1h-1zM1163 698h2v1h-2zM1168 698h1v1h-1zM17 699h1v1h-1zM1169 699h2v1h-2zM1174 699h3v1h-3zM1224 699h1v1h-1zM16 700h1v1h-1zM1180 700h3v1h-3zM1222 700h2v1h-2zM1186 701h3v1h-3zM1192 701h1v1h-1zM1193 702h2v1h-2zM1198 702h3v1h-3zM1216 702h3v1h-3zM1204 703h3v1h-3zM1210 703h3v1h-3zM12 704h1v1h-1zM11 705h1v1h-1zM10 706h1v1h-1zM6 711h1v1h-1zM5 712h1v1h-1zM4 713h1v1h-1zM0 718h1v1h-1z"/>
</g>
<text x="-8.4" y="587" font-size="10.5" fill="#000" textLength="148.2" lengthAdjust="spacingAndGlyphs" >MACD(12,26,9) 0.006202 0.003051</text>
<g shape-rendering="crispEdges" fill="#000"><rect x="1679" y="576" width="2" height="1"/><rect x="1679" y="662" width="2" height="1"/><rect x="1679" y="743" width="1" height="1"/></g>
<text x="1682.5" y="585" font-size="10.5" fill="#000" textLength="37.3" lengthAdjust="spacingAndGlyphs" >0.016748</text>
<text x="1682.5" y="666" font-size="10.5" fill="#000" textLength="17.5" lengthAdjust="spacingAndGlyphs" >0.00</text>
<text x="1682.3" y="741.5" font-size="10.5" fill="#000" textLength="40.3" lengthAdjust="spacingAndGlyphs" >-0.015783</text>
<g clip-path="url(#crsi)">
<line x1="1" y1="782.5" x2="1678" y2="782.5" stroke="#c0c0c0" stroke-dasharray="3 3" shape-rendering="crispEdges"/>
<line x1="1" y1="833.5" x2="1678" y2="833.5" stroke="#c0c0c0" stroke-dasharray="3 3" shape-rendering="crispEdges"/>
<line x1="1" y1="894.5" x2="1678" y2="894.5" stroke="#c0c0c0" stroke-dasharray="3 3" shape-rendering="crispEdges"/>
<path fill="#1e90ff" shape-rendering="crispEdges" d="M780 775h2v1h-2zM779 776h1v1h-1zM782 776h3v1h-3zM778 777h1v1h-1zM785 777h2v1h-2zM777 778h1v1h-1zM787 778h6v1h-6zM775 779h2v1h-2zM793 779h4v1h-4zM774 780h1v1h-1zM797 780h2v1h-2zM825 780h4v1h-4zM773 781h1v1h-1zM799 781h2v1h-2zM819 781h6v1h-6zM828 781h1v1h-1zM772 782h1v1h-1zM801 782h1v1h-1zM817 782h2v1h-2zM829 782h1v3h-1zM770 783h2v1h-2zM802 783h2v1h-2zM814 783h3v1h-3zM768 784h2v1h-2zM804 784h10v1h-10zM908 784h1v2h-1zM766 785h2v1h-2zM830 785h1v2h-1zM907 785h1v2h-1zM763 786h3v1h-3zM909 786h1v4h-1zM761 787h2v1h-2zM831 787h1v3h-1zM906 787h1v2h-1zM758 788h3v1h-3zM756 789h2v1h-2zM905 789h1v2h-1zM755 790h1v1h-1zM832 790h1v3h-1zM910 790h1v4h-1zM754 791h1v1h-1zM904 791h1v2h-1zM753 792h1v1h-1zM752 793h1v1h-1zM833 793h1v3h-1zM903 793h1v2h-1zM417 794h5v1h-5zM751 794h1v1h-1zM911 794h1v4h-1zM412 795h5v1h-5zM422 795h3v1h-3zM750 795h1v1h-1zM902 795h1v2h-1zM410 796h2v1h-2zM425 796h2v1h-2zM749 796h1v1h-1zM834 796h1v2h-1zM408 797h2v1h-2zM427 797h6v1h-6zM745 797h4v1h-4zM901 797h1v2h-1zM406 798h2v1h-2zM433 798h4v1h-4zM740 798h5v1h-5zM835 798h1v3h-1zM912 798h1v4h-1zM1003 798h2v1h-2zM404 799h2v1h-2zM436 799h1v1h-1zM739 799h1v1h-1zM851 799h2v1h-2zM891 799h10v1h-10zM1001 799h2v1h-2zM1005 799h1v1h-1zM402 800h2v1h-2zM437 800h1v3h-1zM737 800h2v1h-2zM849 800h2v1h-2zM853 800h2v1h-2zM887 800h4v1h-4zM998 800h3v1h-3zM1006 800h1v1h-1zM400 801h2v1h-2zM736 801h1v1h-1zM836 801h1v2h-1zM846 801h3v1h-3zM855 801h2v1h-2zM883 801h4v1h-4zM985 801h13v1h-13zM1007 801h1v1h-1zM398 802h2v1h-2zM735 802h1v1h-1zM837 802h9v1h-9zM857 802h1v1h-1zM881 802h2v1h-2zM913 802h1v4h-1zM980 802h5v1h-5zM1008 802h1v2h-1zM395 803h3v1h-3zM438 803h1v3h-1zM733 803h2v1h-2zM858 803h2v1h-2zM878 803h3v1h-3zM979 803h1v2h-1zM380 804h5v1h-5zM391 804h4v1h-4zM716 804h5v1h-5zM729 804h4v1h-4zM860 804h2v1h-2zM875 804h3v1h-3zM1009 804h1v1h-1zM379 805h1v1h-1zM385 805h6v1h-6zM715 805h1v1h-1zM721 805h8v1h-8zM862 805h3v1h-3zM873 805h2v1h-2zM924 805h1v2h-1zM978 805h1v1h-1zM1010 805h1v1h-1zM378 806h1v1h-1zM439 806h1v3h-1zM714 806h1v1h-1zM865 806h2v1h-2zM870 806h3v1h-3zM914 806h1v4h-1zM923 806h1v1h-1zM977 806h1v2h-1zM1011 806h1v1h-1zM377 807h1v1h-1zM713 807h1v1h-1zM867 807h3v1h-3zM922 807h1v2h-1zM925 807h1v2h-1zM1012 807h1v1h-1zM376 808h1v1h-1zM712 808h1v1h-1zM976 808h1v1h-1zM1013 808h1v2h-1zM375 809h1v1h-1zM440 809h1v2h-1zM711 809h1v1h-1zM921 809h1v1h-1zM926 809h1v2h-1zM975 809h1v2h-1zM374 810h1v1h-1zM710 810h1v1h-1zM915 810h1v4h-1zM920 810h1v1h-1zM1014 810h1v2h-1zM1484 810h1v1h-1zM373 811h1v1h-1zM441 811h1v3h-1zM709 811h1v1h-1zM919 811h1v1h-1zM927 811h1v3h-1zM964 811h2v1h-2zM974 811h1v1h-1zM1483 811h1v1h-1zM1485 811h2v1h-2zM372 812h1v1h-1zM643 812h6v1h-6zM708 812h1v1h-1zM918 812h1v2h-1zM963 812h1v1h-1zM966 812h3v1h-3zM973 812h1v2h-1zM1015 812h1v1h-1zM1482 812h1v1h-1zM1487 812h2v1h-2zM371 813h1v2h-1zM641 813h2v1h-2zM649 813h4v1h-4zM707 813h1v2h-1zM962 813h1v1h-1zM969 813h2v1h-2zM1016 813h1v2h-1zM1481 813h1v1h-1zM1489 813h1v1h-1zM44 814h1v1h-1zM156 814h1v1h-1zM442 814h1v3h-1zM628 814h5v1h-5zM638 814h3v1h-3zM653 814h1v2h-1zM916 814h2v1h-2zM928 814h1v2h-1zM961 814h1v1h-1zM971 814h2v1h-2zM1348 814h1v2h-1zM1480 814h1v1h-1zM1490 814h2v1h-2zM43 815h1v1h-1zM45 815h1v1h-1zM155 815h1v2h-1zM157 815h1v2h-1zM370 815h1v2h-1zM627 815h1v1h-1zM633 815h5v1h-5zM706 815h1v2h-1zM916 815h1v1h-1zM959 815h2v1h-2zM1017 815h1v1h-1zM1349 815h1v1h-1zM1479 815h1v1h-1zM1492 815h1v1h-1zM42 816h1v1h-1zM46 816h1v1h-1zM626 816h1v1h-1zM654 816h1v2h-1zM929 816h1v3h-1zM958 816h1v1h-1zM1018 816h1v2h-1zM1347 816h1v2h-1zM1350 816h1v1h-1zM1467 816h4v1h-4zM1478 816h1v1h-1zM41 817h1v1h-1zM47 817h1v1h-1zM154 817h1v1h-1zM158 817h1v1h-1zM369 817h1v2h-1zM443 817h1v3h-1zM468 817h1v1h-1zM625 817h1v1h-1zM705 817h1v1h-1zM957 817h1v1h-1zM1027 817h2v1h-2zM1284 817h1v2h-1zM1351 817h2v1h-2zM1436 817h1v2h-1zM1463 817h4v1h-4zM1471 817h4v1h-4zM1477 817h1v1h-1zM39 818h2v1h-2zM48 818h1v2h-1zM153 818h1v1h-1zM159 818h1v1h-1zM467 818h1v2h-1zM469 818h2v1h-2zM624 818h1v1h-1zM655 818h1v1h-1zM704 818h1v2h-1zM956 818h1v1h-1zM1019 818h1v2h-1zM1025 818h2v1h-2zM1029 818h1v1h-1zM1282 818h2v1h-2zM1346 818h1v2h-1zM1353 818h1v1h-1zM1459 818h4v1h-4zM1475 818h2v1h-2zM38 819h1v1h-1zM152 819h1v2h-1zM160 819h1v2h-1zM368 819h1v2h-1zM471 819h1v1h-1zM623 819h1v1h-1zM656 819h1v2h-1zM930 819h1v2h-1zM955 819h1v1h-1zM1022 819h3v1h-3zM1030 819h1v1h-1zM1280 819h2v1h-2zM1285 819h1v2h-1zM1354 819h1v1h-1zM1435 819h1v3h-1zM1437 819h1v2h-1zM1455 819h4v1h-4zM37 820h1v1h-1zM49 820h1v1h-1zM444 820h1v2h-1zM466 820h1v2h-1zM472 820h1v1h-1zM622 820h1v1h-1zM703 820h1v1h-1zM954 820h1v1h-1zM1020 820h2v1h-2zM1031 820h2v1h-2zM1268 820h5v1h-5zM1278 820h2v1h-2zM1345 820h1v2h-1zM1355 820h1v1h-1zM1452 820h3v1h-3zM36 821h1v1h-1zM50 821h1v1h-1zM151 821h1v1h-1zM161 821h1v1h-1zM367 821h1v2h-1zM473 821h2v1h-2zM621 821h1v1h-1zM657 821h1v1h-1zM675 821h2v1h-2zM702 821h1v2h-1zM931 821h1v2h-1zM953 821h1v1h-1zM1033 821h1v1h-1zM1267 821h1v2h-1zM1273 821h5v1h-5zM1286 821h1v2h-1zM1356 821h1v1h-1zM1438 821h1v2h-1zM1451 821h1v2h-1zM34 822h2v1h-2zM51 822h1v1h-1zM150 822h1v1h-1zM162 822h1v1h-1zM445 822h1v2h-1zM465 822h1v1h-1zM475 822h1v1h-1zM620 822h1v1h-1zM658 822h1v2h-1zM673 822h2v1h-2zM677 822h2v1h-2zM952 822h1v2h-1zM1034 822h1v1h-1zM1344 822h1v3h-1zM1357 822h2v1h-2zM1434 822h1v3h-1zM32 823h2v1h-2zM52 823h2v1h-2zM149 823h1v2h-1zM163 823h1v2h-1zM366 823h1v2h-1zM464 823h1v2h-1zM476 823h2v1h-2zM618 823h2v1h-2zM670 823h3v1h-3zM679 823h2v1h-2zM701 823h1v2h-1zM932 823h1v2h-1zM1035 823h1v1h-1zM1266 823h1v1h-1zM1287 823h1v2h-1zM1359 823h2v1h-2zM1439 823h1v2h-1zM1450 823h1v2h-1zM30 824h2v1h-2zM54 824h3v1h-3zM446 824h1v1h-1zM478 824h2v1h-2zM617 824h1v1h-1zM659 824h1v2h-1zM667 824h3v1h-3zM681 824h1v1h-1zM933 824h9v1h-9zM951 824h1v1h-1zM1036 824h1v1h-1zM1236 824h1v1h-1zM1265 824h1v1h-1zM1361 824h1v1h-1zM1371 824h2v1h-2zM20 825h10v1h-10zM57 825h2v1h-2zM148 825h1v1h-1zM164 825h2v1h-2zM365 825h1v2h-1zM447 825h1v1h-1zM463 825h1v1h-1zM480 825h2v1h-2zM615 825h2v1h-2zM663 825h4v1h-4zM682 825h2v1h-2zM689 825h12v1h-12zM942 825h3v1h-3zM950 825h1v1h-1zM1037 825h1v1h-1zM1235 825h1v1h-1zM1237 825h1v2h-1zM1264 825h1v2h-1zM1288 825h1v3h-1zM1343 825h1v2h-1zM1362 825h2v1h-2zM1367 825h4v1h-4zM1373 825h2v1h-2zM1433 825h1v3h-1zM1440 825h1v3h-1zM1449 825h1v2h-1zM18 826h2v1h-2zM59 826h19v1h-19zM146 826h2v1h-2zM166 826h2v1h-2zM448 826h1v2h-1zM462 826h1v2h-1zM482 826h2v1h-2zM613 826h2v1h-2zM660 826h3v1h-3zM684 826h5v1h-5zM945 826h2v1h-2zM949 826h1v1h-1zM1038 826h1v2h-1zM1234 826h1v1h-1zM1300 826h1v1h-1zM1364 826h3v1h-3zM1375 826h2v1h-2zM16 827h2v1h-2zM78 827h3v1h-3zM144 827h2v1h-2zM168 827h2v1h-2zM363 827h2v1h-2zM484 827h1v1h-1zM611 827h2v1h-2zM947 827h2v1h-2zM1233 827h1v1h-1zM1238 827h1v2h-1zM1263 827h1v1h-1zM1299 827h1v1h-1zM1301 827h1v2h-1zM1342 827h1v2h-1zM1377 827h1v1h-1zM1387 827h2v1h-2zM1448 827h1v2h-1zM14 828h2v1h-2zM81 828h2v1h-2zM142 828h2v1h-2zM170 828h2v1h-2zM332 828h1v2h-1zM359 828h4v1h-4zM449 828h1v1h-1zM461 828h1v2h-1zM485 828h1v2h-1zM609 828h2v1h-2zM1039 828h1v1h-1zM1232 828h1v1h-1zM1262 828h1v1h-1zM1289 828h1v2h-1zM1298 828h1v1h-1zM1378 828h2v1h-2zM1383 828h4v1h-4zM1389 828h2v1h-2zM1432 828h1v3h-1zM1441 828h1v2h-1zM11 829h3v1h-3zM83 829h2v1h-2zM137 829h5v1h-5zM172 829h3v1h-3zM333 829h1v1h-1zM353 829h6v1h-6zM450 829h1v1h-1zM523 829h2v1h-2zM606 829h3v1h-3zM1040 829h1v1h-1zM1231 829h1v1h-1zM1239 829h1v2h-1zM1261 829h1v2h-1zM1297 829h1v1h-1zM1302 829h1v1h-1zM1341 829h1v2h-1zM1380 829h3v1h-3zM1391 829h2v1h-2zM1447 829h1v2h-1zM9 830h2v1h-2zM85 830h1v2h-1zM132 830h5v1h-5zM175 830h4v1h-4zM331 830h1v2h-1zM334 830h1v1h-1zM348 830h5v1h-5zM451 830h1v2h-1zM459 830h2v1h-2zM486 830h1v2h-1zM519 830h4v1h-4zM525 830h1v2h-1zM593 830h13v1h-13zM1041 830h1v1h-1zM1230 830h1v1h-1zM1290 830h1v2h-1zM1296 830h1v2h-1zM1303 830h1v2h-1zM1393 830h1v1h-1zM1442 830h1v2h-1zM6 831h3v1h-3zM131 831h1v1h-1zM179 831h10v1h-10zM335 831h1v1h-1zM347 831h1v1h-1zM455 831h4v1h-4zM516 831h3v1h-3zM580 831h13v1h-13zM1042 831h1v2h-1zM1220 831h5v1h-5zM1229 831h1v1h-1zM1240 831h1v1h-1zM1259 831h2v1h-2zM1340 831h1v2h-1zM1394 831h2v1h-2zM1431 831h1v3h-1zM1446 831h1v2h-1zM3 832h3v1h-3zM86 832h1v2h-1zM129 832h2v1h-2zM189 832h1v2h-1zM217 832h4v1h-4zM330 832h1v2h-1zM336 832h1v1h-1zM345 832h2v1h-2zM452 832h3v1h-3zM487 832h1v1h-1zM516 832h1v1h-1zM526 832h1v1h-1zM579 832h1v1h-1zM1219 832h1v1h-1zM1225 832h4v1h-4zM1241 832h1v2h-1zM1257 832h2v1h-2zM1291 832h1v2h-1zM1295 832h1v1h-1zM1304 832h1v1h-1zM1337 832h3v1h-3zM1396 832h1v1h-1zM1443 832h1v2h-1zM0 833h3v1h-3zM128 833h1v1h-1zM212 833h5v1h-5zM221 833h1v1h-1zM337 833h1v1h-1zM344 833h1v1h-1zM488 833h1v2h-1zM515 833h1v2h-1zM527 833h1v1h-1zM578 833h1v1h-1zM1043 833h1v1h-1zM1217 833h2v1h-2zM1254 833h3v1h-3zM1294 833h1v1h-1zM1305 833h1v2h-1zM1331 833h6v1h-6zM1397 833h1v1h-1zM1445 833h1v2h-1zM87 834h1v1h-1zM127 834h1v1h-1zM190 834h1v2h-1zM210 834h2v1h-2zM222 834h1v2h-1zM329 834h1v2h-1zM338 834h1v1h-1zM343 834h1v1h-1zM528 834h1v2h-1zM577 834h1v1h-1zM1044 834h1v2h-1zM1204 834h2v1h-2zM1216 834h1v1h-1zM1242 834h1v2h-1zM1252 834h2v1h-2zM1292 834h2v1h-2zM1329 834h2v1h-2zM1398 834h1v1h-1zM1430 834h1v3h-1zM1444 834h1v2h-1zM88 835h1v2h-1zM125 835h2v1h-2zM208 835h2v1h-2zM339 835h1v1h-1zM341 835h2v1h-2zM489 835h1v1h-1zM514 835h1v2h-1zM576 835h1v2h-1zM1203 835h1v1h-1zM1206 835h3v1h-3zM1215 835h1v1h-1zM1250 835h2v1h-2zM1292 835h1v1h-1zM1306 835h1v1h-1zM1315 835h6v1h-6zM1326 835h3v1h-3zM1399 835h1v1h-1zM121 836h4v1h-4zM191 836h1v1h-1zM206 836h2v1h-2zM223 836h1v1h-1zM328 836h1v2h-1zM340 836h1v1h-1zM490 836h1v2h-1zM529 836h1v1h-1zM1045 836h1v2h-1zM1201 836h2v1h-2zM1209 836h2v1h-2zM1213 836h2v1h-2zM1243 836h1v2h-1zM1248 836h2v1h-2zM1307 836h1v2h-1zM1313 836h2v1h-2zM1321 836h5v1h-5zM1400 836h1v1h-1zM1412 836h2v1h-2zM89 837h1v1h-1zM107 837h14v1h-14zM192 837h1v2h-1zM204 837h2v1h-2zM224 837h1v1h-1zM513 837h1v2h-1zM530 837h1v1h-1zM575 837h1v1h-1zM1200 837h1v1h-1zM1211 837h2v1h-2zM1246 837h2v1h-2zM1310 837h3v1h-3zM1401 837h1v1h-1zM1410 837h2v1h-2zM1414 837h2v1h-2zM1429 837h1v3h-1zM90 838h1v2h-1zM105 838h2v1h-2zM203 838h1v1h-1zM225 838h1v1h-1zM327 838h1v2h-1zM491 838h1v2h-1zM531 838h1v2h-1zM574 838h1v1h-1zM1046 838h1v2h-1zM1199 838h1v1h-1zM1244 838h2v1h-2zM1308 838h2v1h-2zM1402 838h1v1h-1zM1408 838h2v1h-2zM1416 838h2v1h-2zM102 839h3v1h-3zM193 839h1v1h-1zM202 839h1v1h-1zM226 839h1v2h-1zM512 839h1v3h-1zM537 839h4v1h-4zM573 839h1v1h-1zM1188 839h5v1h-5zM1197 839h2v1h-2zM1403 839h1v1h-1zM1406 839h2v1h-2zM1418 839h2v1h-2zM91 840h1v2h-1zM99 840h3v1h-3zM194 840h1v2h-1zM201 840h1v1h-1zM284 840h3v1h-3zM326 840h1v2h-1zM492 840h1v1h-1zM532 840h5v1h-5zM541 840h2v1h-2zM572 840h1v1h-1zM1047 840h1v3h-1zM1187 840h1v2h-1zM1193 840h4v1h-4zM1404 840h2v1h-2zM1420 840h5v1h-5zM1428 840h1v2h-1zM95 841h4v1h-4zM199 841h2v1h-2zM227 841h1v1h-1zM283 841h1v1h-1zM287 841h4v1h-4zM493 841h1v1h-1zM543 841h1v1h-1zM571 841h1v1h-1zM1113 841h4v1h-4zM1425 841h3v1h-3zM92 842h3v1h-3zM195 842h1v2h-1zM198 842h1v1h-1zM228 842h1v1h-1zM282 842h1v1h-1zM291 842h4v1h-4zM325 842h1v2h-1zM494 842h1v1h-1zM511 842h1v2h-1zM544 842h1v1h-1zM570 842h1v1h-1zM1108 842h5v1h-5zM1117 842h2v1h-2zM1186 842h1v2h-1zM197 843h1v1h-1zM229 843h1v1h-1zM281 843h1v1h-1zM295 843h4v1h-4zM495 843h2v1h-2zM545 843h2v1h-2zM569 843h1v1h-1zM1048 843h1v2h-1zM1107 843h1v1h-1zM1119 843h2v1h-2zM196 844h1v1h-1zM230 844h1v1h-1zM279 844h2v1h-2zM299 844h2v1h-2zM324 844h1v2h-1zM497 844h1v1h-1zM510 844h1v2h-1zM547 844h1v1h-1zM568 844h1v2h-1zM1106 844h1v2h-1zM1121 844h1v1h-1zM1185 844h1v2h-1zM231 845h1v1h-1zM278 845h1v1h-1zM301 845h2v1h-2zM323 845h1v1h-1zM498 845h1v1h-1zM548 845h3v1h-3zM1049 845h1v3h-1zM1122 845h2v1h-2zM1129 845h4v1h-4zM232 846h1v2h-1zM277 846h1v1h-1zM303 846h1v1h-1zM321 846h2v1h-2zM499 846h1v1h-1zM509 846h1v2h-1zM551 846h4v1h-4zM567 846h1v1h-1zM1105 846h1v1h-1zM1124 846h5v1h-5zM1133 846h1v1h-1zM1184 846h1v2h-1zM276 847h1v2h-1zM304 847h1v1h-1zM318 847h3v1h-3zM500 847h3v1h-3zM555 847h4v1h-4zM566 847h1v1h-1zM1104 847h1v1h-1zM1134 847h1v2h-1zM233 848h1v1h-1zM305 848h2v1h-2zM315 848h3v1h-3zM503 848h4v1h-4zM508 848h1v2h-1zM559 848h4v1h-4zM565 848h1v1h-1zM1050 848h1v2h-1zM1103 848h1v1h-1zM1183 848h1v2h-1zM234 849h1v1h-1zM275 849h1v2h-1zM307 849h1v1h-1zM311 849h4v1h-4zM507 849h1v1h-1zM563 849h2v1h-2zM1102 849h1v2h-1zM1135 849h1v1h-1zM235 850h1v1h-1zM308 850h3v1h-3zM1051 850h1v2h-1zM1059 850h2v1h-2zM1136 850h1v1h-1zM1182 850h1v2h-1zM236 851h5v1h-5zM274 851h1v2h-1zM1057 851h2v1h-2zM1061 851h1v2h-1zM1101 851h1v1h-1zM1137 851h1v1h-1zM241 852h12v1h-12zM1052 852h1v2h-1zM1054 852h3v1h-3zM1100 852h1v1h-1zM1138 852h1v2h-1zM1181 852h1v2h-1zM253 853h1v2h-1zM273 853h1v2h-1zM1053 853h1v1h-1zM1062 853h1v2h-1zM1098 853h2v1h-2zM1097 854h1v1h-1zM1139 854h1v1h-1zM1180 854h1v1h-1zM254 855h1v1h-1zM272 855h1v3h-1zM1063 855h1v1h-1zM1095 855h2v1h-2zM1140 855h1v1h-1zM1178 855h2v1h-2zM255 856h1v1h-1zM1064 856h1v2h-1zM1093 856h2v1h-2zM1141 856h2v1h-2zM1177 856h1v1h-1zM256 857h1v2h-1zM1092 857h1v1h-1zM1143 857h1v1h-1zM1164 857h3v1h-3zM1175 857h2v1h-2zM271 858h1v2h-1zM1065 858h1v1h-1zM1090 858h2v1h-2zM1144 858h1v1h-1zM1163 858h1v1h-1zM1167 858h4v1h-4zM1173 858h2v1h-2zM257 859h1v1h-1zM1066 859h1v2h-1zM1089 859h1v1h-1zM1145 859h2v1h-2zM1161 859h2v1h-2zM1171 859h2v1h-2zM258 860h1v1h-1zM270 860h1v2h-1zM1087 860h2v1h-2zM1147 860h1v1h-1zM1160 860h1v1h-1zM259 861h1v2h-1zM1067 861h1v2h-1zM1085 861h2v1h-2zM1148 861h3v1h-3zM1159 861h1v1h-1zM269 862h1v2h-1zM1083 862h2v1h-2zM1151 862h4v1h-4zM1157 862h2v1h-2zM260 863h3v1h-3zM1068 863h5v1h-5zM1079 863h4v1h-4zM1155 863h2v1h-2zM263 864h4v1h-4zM268 864h1v2h-1zM1073 864h6v1h-6zM267 865h1v1h-1z"/>
</g>
<text x="-7.2" y="759" font-size="10.5" fill="#000" textLength="67" lengthAdjust="spacingAndGlyphs" >RSI(14) 60.4885</text>
<text x="1682.5" y="757" font-size="10.5" fill="#000" textLength="14.4" lengthAdjust="spacingAndGlyphs" >100</text>
<text x="1681.3" y="786" font-size="10.5" fill="#000" textLength="9.8" lengthAdjust="spacingAndGlyphs" >80</text>
<text x="1681.3" y="837" font-size="10.5" fill="#000" textLength="9.8" lengthAdjust="spacingAndGlyphs" >50</text>
<text x="1681.3" y="898" font-size="10.5" fill="#000" textLength="9.8" lengthAdjust="spacingAndGlyphs" >15</text>
<text x="1682.2" y="917" font-size="10.5" fill="#000" textLength="5" lengthAdjust="spacingAndGlyphs" >0</text>
<g shape-rendering="crispEdges" fill="#000"><rect x="1679" y="748" width="1" height="1"/><rect x="1679" y="919" width="1" height="1"/></g>
<g shape-rendering="crispEdges" fill="#000">
<rect x="52" y="921" width="1" height="3"/>
<rect x="116" y="921" width="1" height="3"/>
<rect x="180" y="921" width="1" height="3"/>
<rect x="244" y="921" width="1" height="3"/>
<rect x="308" y="921" width="1" height="3"/>
<rect x="372" y="921" width="1" height="3"/>
<rect x="436" y="921" width="1" height="3"/>
<rect x="500" y="921" width="1" height="3"/>
<rect x="564" y="921" width="1" height="3"/>
<rect x="628" y="921" width="1" height="3"/>
<rect x="692" y="921" width="1" height="3"/>
<rect x="756" y="921" width="1" height="3"/>
<rect x="820" y="921" width="1" height="3"/>
<rect x="884" y="921" width="1" height="3"/>
<rect x="948" y="921" width="1" height="3"/>
<rect x="1012" y="921" width="1" height="3"/>
<rect x="1076" y="921" width="1" height="3"/>
<rect x="1140" y="921" width="1" height="3"/>
<rect x="1204" y="921" width="1" height="3"/>
<rect x="1268" y="921" width="1" height="3"/>
<rect x="1332" y="921" width="1" height="3"/>
<rect x="1396" y="921" width="1" height="3"/>
<rect x="1460" y="921" width="1" height="3"/>
</g>
<text x="-12.3" y="933.2" font-size="10.5" fill="#000" textLength="45" lengthAdjust="spacingAndGlyphs" >6 Apr 2020</text>
<text x="51.7" y="933.2" font-size="10.5" fill="#000" textLength="50" lengthAdjust="spacingAndGlyphs" >15 Apr 2020</text>
<text x="115.7" y="933.2" font-size="10.5" fill="#000" textLength="50" lengthAdjust="spacingAndGlyphs" >24 Apr 2020</text>
<text x="179.7" y="933.2" font-size="10.5" fill="#000" textLength="49.4" lengthAdjust="spacingAndGlyphs" >4 May 2020</text>
<text x="243.7" y="933.2" font-size="10.5" fill="#000" textLength="54.4" lengthAdjust="spacingAndGlyphs" >13 May 2020</text>
<text x="307.7" y="933.2" font-size="10.5" fill="#000" textLength="54.4" lengthAdjust="spacingAndGlyphs" >22 May 2020</text>
<text x="371.7" y="933.2" font-size="10.5" fill="#000" textLength="44.2" lengthAdjust="spacingAndGlyphs" >1 Jun 2020</text>
<text x="435.7" y="933.2" font-size="10.5" fill="#000" textLength="49.2" lengthAdjust="spacingAndGlyphs" >10 Jun 2020</text>
<text x="499.7" y="933.2" font-size="10.5" fill="#000" textLength="49.2" lengthAdjust="spacingAndGlyphs" >19 Jun 2020</text>
<text x="563.7" y="933.2" font-size="10.5" fill="#000" textLength="49.2" lengthAdjust="spacingAndGlyphs" >29 Jun 2020</text>
<text x="627.7" y="933.2" font-size="10.5" fill="#000" textLength="41.1" lengthAdjust="spacingAndGlyphs" >8 Jul 2020</text>
<text x="691.7" y="933.2" font-size="10.5" fill="#000" textLength="46.1" lengthAdjust="spacingAndGlyphs" >17 Jul 2020</text>
<text x="755.7" y="933.2" font-size="10.5" fill="#000" textLength="46.1" lengthAdjust="spacingAndGlyphs" >27 Jul 2020</text>
<text x="819.7" y="933.2" font-size="10.5" fill="#000" textLength="47.3" lengthAdjust="spacingAndGlyphs" >5 Aug 2020</text>
<text x="883.7" y="933.2" font-size="10.5" fill="#000" textLength="52.3" lengthAdjust="spacingAndGlyphs" >14 Aug 2020</text>
<text x="947.7" y="933.2" font-size="10.5" fill="#000" textLength="52.3" lengthAdjust="spacingAndGlyphs" >24 Aug 2020</text>
<text x="1011.7" y="933.2" font-size="10.5" fill="#000" textLength="46.1" lengthAdjust="spacingAndGlyphs" >2 Sep 2020</text>
<text x="1075.7" y="933.2" font-size="10.5" fill="#000" textLength="51.1" lengthAdjust="spacingAndGlyphs" >11 Sep 2020</text>
<text x="1139.7" y="933.2" font-size="10.5" fill="#000" textLength="51.1" lengthAdjust="spacingAndGlyphs" >21 Sep 2020</text>
<text x="1203.7" y="933.2" font-size="10.5" fill="#000" textLength="51.1" lengthAdjust="spacingAndGlyphs" >30 Sep 2020</text>
<text x="1267.7" y="933.2" font-size="10.5" fill="#000" textLength="45.4" lengthAdjust="spacingAndGlyphs" >9 Oct 2020</text>
<text x="1331.7" y="933.2" font-size="10.5" fill="#000" textLength="50.4" lengthAdjust="spacingAndGlyphs" >19 Oct 2020</text>
<text x="1395.7" y="933.2" font-size="10.5" fill="#000" textLength="50.4" lengthAdjust="spacingAndGlyphs" >28 Oct 2020</text>
<text x="1459.7" y="933.2" font-size="10.5" fill="#000" textLength="48.6" lengthAdjust="spacingAndGlyphs" >6 Nov 2020</text>
</svg></body></html>
